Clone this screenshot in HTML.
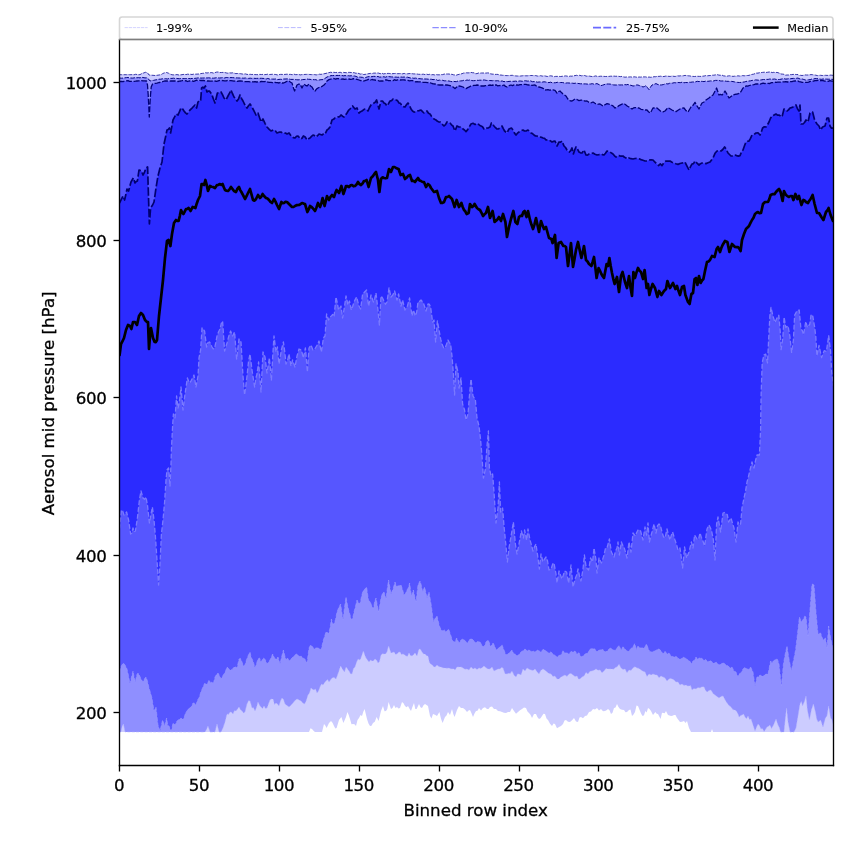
<!DOCTYPE html>
<html><head><meta charset="utf-8"><title>Aerosol mid pressure percentiles</title>
<style>html,body{margin:0;padding:0;background:#fff}svg{display:block}text{font-family:"DejaVu Sans","Liberation Sans",sans-serif;fill:#000}</style></head><body>
<svg width="850" height="850" viewBox="0 0 850 850">
<rect width="850" height="850" fill="#fff"/>
<defs><clipPath id="ax"><rect x="119.5" y="39.5" width="714.0" height="726.0"/></clipPath></defs>
<g clip-path="url(#ax)">
<polygon points="118.5,74.7 119.5,74.7 121.3,74.7 123.2,74.7 125.0,74.7 126.5,74.7 128.0,74.6 129.5,74.7 131.0,74.7 132.5,74.6 134.0,74.8 135.5,74.3 137.0,74.5 139.0,74.8 141.0,74.2 142.2,73.1 143.5,73.0 145.5,72.3 147.5,72.8 149.0,75.0 151.0,75.2 153.0,75.3 155.0,75.5 157.0,75.3 159.0,75.0 161.0,74.7 162.5,73.7 164.0,73.0 165.2,72.7 166.5,72.5 168.5,73.2 169.8,74.0 171.0,74.5 173.0,74.9 175.0,74.8 177.0,74.6 179.0,75.0 181.0,74.8 183.0,74.5 184.5,74.3 186.0,74.6 187.5,74.2 189.0,74.3 190.5,74.3 192.0,74.5 193.5,74.2 195.0,74.2 197.0,74.1 199.0,74.0 200.7,73.6 202.3,73.4 204.0,73.2 205.5,72.7 207.0,73.0 208.6,72.7 210.2,72.7 211.8,72.6 213.4,73.1 215.0,72.6 216.6,72.1 218.2,72.0 219.8,72.5 221.4,72.5 223.0,72.4 224.6,72.5 226.2,72.9 227.8,73.2 229.4,72.8 231.0,73.0 232.6,72.8 234.2,73.2 235.8,73.6 237.4,73.5 239.0,73.6 240.6,73.7 242.2,74.0 243.8,74.1 245.4,73.9 247.0,74.4 248.6,74.5 250.2,74.3 251.8,74.5 253.4,74.4 255.0,74.6 256.6,74.6 258.2,74.7 259.8,74.4 261.4,74.5 263.0,74.4 264.6,74.6 266.2,74.5 267.8,74.2 269.4,74.5 271.0,74.4 272.6,74.3 274.2,74.4 275.8,74.5 277.4,74.9 279.0,74.6 280.5,74.4 282.0,74.4 283.5,74.5 285.0,74.4 287.0,74.2 289.0,74.4 290.6,74.4 292.2,74.7 293.8,74.1 295.4,74.6 297.0,74.6 298.6,74.4 300.2,74.9 301.8,74.6 303.4,74.6 305.0,74.4 306.6,74.4 308.2,74.3 309.8,74.5 311.4,74.6 313.0,74.6 314.6,74.6 316.2,74.9 317.8,74.6 319.4,74.2 321.0,74.4 323.0,73.9 325.0,73.6 327.0,73.1 329.0,72.6 330.6,72.3 332.2,72.5 333.8,72.3 335.4,72.5 337.0,72.4 338.6,72.5 340.2,72.3 341.8,72.8 343.4,72.4 345.0,72.6 346.6,72.7 348.2,72.4 349.8,72.4 351.4,72.5 353.0,72.6 354.5,72.8 356.0,73.3 357.5,73.0 359.0,73.6 360.5,74.1 362.0,73.7 363.5,74.5 365.0,74.4 367.0,74.0 369.0,73.6 370.6,73.4 372.2,73.5 373.8,73.1 375.4,73.1 377.0,73.0 378.6,73.1 380.2,73.7 381.8,73.1 383.4,73.9 385.0,73.6 386.6,73.5 388.2,73.4 389.8,73.5 391.4,73.8 393.0,73.6 394.6,73.5 396.2,73.4 397.8,73.7 399.4,73.6 401.0,73.6 402.6,73.8 404.2,73.4 405.8,73.9 407.4,73.8 409.0,73.6 410.6,73.5 412.2,73.7 413.8,73.9 415.4,73.9 417.0,74.0 418.6,74.3 420.2,74.3 421.8,74.3 423.4,74.2 425.0,74.6 426.6,74.2 428.2,74.6 429.8,74.3 431.4,74.8 433.0,74.6 434.6,74.9 436.2,74.6 437.8,74.8 439.4,74.8 441.0,74.6 442.6,74.6 444.2,74.1 445.8,74.0 447.4,74.0 449.0,74.0 450.5,74.3 452.0,74.3 453.5,74.8 455.0,75.0 456.5,75.1 458.0,74.6 459.0,74.4 460.5,74.0 462.0,73.7 463.5,73.1 465.0,73.0 466.5,72.8 468.0,72.9 469.5,72.8 471.0,72.4 472.5,72.7 474.0,72.8 475.5,73.7 477.0,73.6 478.5,73.0 480.0,73.2 481.5,73.0 483.0,73.0 484.5,73.0 486.0,73.1 487.5,72.9 489.0,73.0 490.5,73.8 492.0,74.1 493.5,74.2 495.0,74.4 496.5,74.4 498.0,74.4 499.5,75.1 501.0,75.0 502.6,75.3 504.2,75.3 505.8,75.6 507.4,75.6 509.0,75.6 510.7,75.4 512.3,75.3 514.0,75.7 515.7,75.9 517.3,76.0 519.0,76.0 520.7,76.0 522.3,75.8 524.0,75.6 525.7,75.8 527.3,75.8 529.0,75.6 530.7,75.5 532.3,75.5 534.0,75.7 535.7,75.6 537.3,76.0 539.0,76.0 540.7,75.7 542.3,76.1 544.0,75.8 545.7,76.1 547.3,76.5 549.0,76.0 550.7,75.8 552.3,76.1 554.0,76.7 555.7,76.4 557.3,76.4 559.0,76.4 560.7,76.5 562.3,76.3 564.0,76.1 565.7,75.9 567.3,76.2 569.0,76.4 570.5,76.1 572.0,76.2 573.5,75.8 575.0,75.6 576.6,75.3 578.2,75.7 579.8,75.3 581.4,75.8 583.0,75.6 584.6,75.5 586.2,76.1 587.8,76.1 589.4,76.1 591.0,76.4 592.6,76.6 594.2,76.3 595.8,75.9 597.4,76.5 599.0,76.4 600.7,76.2 602.3,76.3 604.0,76.4 605.7,76.5 607.3,76.4 609.0,76.4 610.7,76.2 612.3,76.2 614.0,76.1 615.7,76.3 617.3,76.2 619.0,76.4 620.5,76.6 622.0,76.4 623.5,76.9 625.0,77.2 626.5,77.0 628.0,77.0 629.0,77.0 630.7,76.9 632.3,77.2 634.0,76.8 635.7,77.0 637.3,77.3 639.0,77.0 640.7,77.1 642.3,76.9 644.0,76.9 645.7,76.9 647.3,77.3 649.0,77.0 650.7,77.3 652.3,77.1 654.0,76.7 655.7,76.7 657.3,76.3 659.0,76.4 660.7,76.2 662.3,76.5 664.0,76.5 665.7,76.1 667.3,76.1 669.0,76.4 670.7,76.4 672.3,76.0 674.0,76.4 675.7,76.4 677.3,75.8 679.0,76.0 680.5,75.8 682.0,75.9 683.5,75.7 685.0,75.4 686.6,75.6 688.2,75.8 689.8,75.9 691.4,76.3 693.0,76.4 694.6,76.5 696.2,76.3 697.8,76.3 699.4,76.4 701.0,76.4 702.6,76.2 704.2,76.0 705.8,75.6 707.4,75.8 709.0,75.6 710.6,75.5 712.2,75.2 713.8,75.2 715.4,74.9 717.0,74.6 718.6,75.0 720.2,75.3 721.8,75.0 723.4,75.8 725.0,76.0 726.6,76.3 728.2,75.9 729.8,75.8 731.4,76.1 733.0,76.4 734.6,76.2 736.2,76.3 737.8,75.8 739.4,76.0 741.0,76.0 742.6,75.6 744.2,75.8 745.8,75.6 747.4,75.5 749.0,75.4 750.5,74.8 752.0,74.4 753.5,74.2 755.0,73.6 756.5,73.1 758.0,73.1 759.5,72.7 761.0,72.6 762.6,72.4 764.2,72.2 765.8,72.5 767.4,72.3 769.0,72.0 770.6,72.0 772.2,72.6 773.8,72.3 775.4,72.6 777.0,72.4 779.0,73.0 781.0,74.0 782.5,74.1 784.0,74.3 785.5,75.2 787.0,75.0 788.5,75.0 790.0,74.6 791.5,74.6 793.0,74.4 794.7,74.4 796.3,74.5 798.0,74.6 799.0,75.6 800.5,75.3 802.0,75.5 803.5,75.3 805.0,74.9 806.5,75.0 808.0,75.0 809.5,74.8 811.0,74.6 812.6,74.7 814.2,75.0 815.8,75.2 817.4,75.6 819.0,75.4 820.6,75.3 822.2,75.5 823.8,75.4 825.4,75.3 827.0,75.4 828.6,75.4 830.2,75.1 831.8,75.2 833.4,75.4 835.5,75.4 835.5,732.0 834.0,732.0 832.4,732.0 830.8,732.0 829.2,732.0 827.6,732.0 826.0,732.0 824.4,732.0 822.9,732.0 821.3,732.0 819.7,732.0 818.1,732.0 816.5,732.0 814.9,732.0 813.3,732.0 811.7,732.0 810.1,732.0 808.5,732.0 806.9,732.0 805.3,732.0 803.8,732.0 802.2,732.0 800.6,732.0 799.0,732.0 797.4,732.0 795.8,732.0 794.2,732.0 792.6,732.0 791.0,732.0 789.4,732.0 787.8,732.0 786.2,732.0 784.6,732.0 783.1,732.0 781.5,732.0 779.9,732.0 778.3,732.0 776.7,732.0 775.1,732.0 773.5,732.0 771.9,732.0 770.3,732.0 768.7,732.0 767.1,732.0 765.5,732.0 763.9,732.0 762.4,732.0 760.8,732.0 759.2,732.0 757.6,732.0 756.0,732.0 754.4,732.0 752.8,732.0 751.2,732.0 749.6,732.0 748.0,732.0 746.4,732.0 744.8,732.0 743.2,732.0 741.7,732.0 740.1,732.0 738.5,732.0 736.9,732.0 735.3,732.0 733.7,732.0 732.1,732.0 730.5,732.0 728.9,732.0 727.3,732.0 725.7,732.0 724.1,732.0 722.6,732.0 721.0,732.0 719.4,732.0 717.8,732.0 716.2,732.0 714.6,732.0 713.0,732.0 712.0,729.0 711.0,732.0 709.3,732.0 707.7,732.0 706.0,732.0 704.3,732.0 702.7,732.0 701.0,732.0 699.3,732.0 697.7,732.0 696.0,732.0 694.3,732.0 692.7,732.0 691.0,732.0 689.0,728.0 687.0,721.0 685.5,723.0 684.0,721.0 682.0,721.7 680.0,722.0 678.5,720.0 677.0,718.0 675.5,715.1 674.0,715.0 672.5,715.7 671.0,716.0 669.5,715.5 668.0,715.0 666.0,711.0 664.7,713.2 663.4,713.0 662.0,712.7 660.6,719.0 659.3,716.5 658.0,714.0 656.7,713.7 655.4,712.0 653.0,715.0 651.0,711.0 649.5,708.9 648.0,708.0 646.7,712.5 645.4,711.0 644.0,715.2 642.6,716.0 641.3,713.9 640.0,711.0 638.0,706.0 636.5,705.4 635.0,712.0 633.5,714.6 632.0,716.0 630.5,709.4 629.0,710.0 627.0,712.0 625.5,712.2 624.0,710.0 622.0,709.8 620.0,709.0 618.5,707.0 617.0,704.0 615.5,707.6 614.0,708.0 612.5,712.8 611.0,714.0 609.5,710.3 608.0,709.0 606.5,710.3 605.0,711.0 603.0,711.2 601.0,709.0 599.0,710.6 597.0,708.0 595.0,709.5 593.0,709.0 591.0,711.6 589.0,712.0 587.0,715.5 585.0,716.0 583.0,718.2 581.0,717.0 579.5,717.5 578.0,722.0 576.0,721.6 574.0,718.0 572.0,720.3 570.0,722.0 568.0,721.8 566.0,720.0 564.5,720.4 563.0,724.0 561.0,726.0 559.0,727.0 557.0,728.2 555.0,724.0 553.5,723.4 552.0,726.0 550.0,723.7 548.0,720.0 546.5,718.4 545.0,714.0 543.5,713.8 542.0,716.0 540.5,718.2 539.0,719.0 537.5,717.3 536.0,714.0 534.0,713.9 532.0,718.0 530.5,714.7 529.0,713.0 527.5,711.6 526.0,708.0 524.0,707.6 522.0,709.0 520.0,710.2 518.0,712.0 516.0,713.7 514.0,711.0 512.0,707.9 510.0,712.0 508.0,711.9 506.0,713.0 504.0,712.7 502.0,712.0 500.0,711.2 498.0,711.0 496.0,709.0 494.0,709.0 492.0,706.6 490.0,707.0 488.5,708.9 487.0,709.0 485.0,707.2 483.0,708.0 481.0,710.4 479.0,708.0 477.5,710.8 476.0,711.0 474.5,713.5 473.0,717.0 471.5,713.3 470.0,710.0 468.5,710.4 467.0,712.0 465.0,709.4 463.0,708.0 461.0,708.0 459.0,706.0 457.0,710.0 454.6,717.0 453.3,713.9 452.0,709.0 450.0,715.0 448.0,712.0 446.5,715.5 445.0,717.0 442.6,723.0 441.0,718.7 439.4,712.0 437.0,716.0 435.0,714.7 433.0,714.0 431.5,718.6 430.0,716.0 428.0,706.0 426.5,705.0 425.0,704.0 423.5,705.3 422.0,708.0 420.5,707.2 419.0,704.0 416.6,709.0 415.3,709.1 414.0,703.0 412.5,706.8 411.0,711.0 409.5,708.7 408.0,706.0 406.5,707.3 405.0,706.0 403.5,703.2 402.0,702.0 400.0,708.0 398.5,708.5 397.0,707.0 395.5,708.0 394.0,705.0 392.5,708.0 391.0,709.0 388.6,702.0 387.3,709.1 386.0,711.0 384.5,711.3 383.0,706.0 381.0,711.0 378.6,721.0 376.6,717.0 374.8,721.7 373.0,723.0 371.5,725.8 370.0,726.0 368.5,723.5 367.0,719.0 364.6,709.0 363.3,711.7 362.0,716.0 360.5,714.9 359.0,718.0 357.5,720.1 356.0,726.0 354.5,724.3 353.0,724.0 351.5,724.2 350.0,719.0 348.7,715.1 347.4,712.0 346.0,717.0 344.7,720.1 343.4,723.0 341.4,717.0 339.0,720.0 336.6,728.0 335.3,728.5 334.0,726.0 332.5,722.8 331.0,721.0 329.0,723.0 326.6,728.0 325.3,725.6 324.0,724.0 322.0,732.0 320.2,732.0 318.5,732.0 316.8,732.0 315.0,732.0 313.5,730.8 312.0,729.0 310.5,728.3 309.0,732.0 307.3,732.0 305.7,732.0 304.0,732.0 302.3,732.0 300.7,732.0 299.0,732.0 297.3,732.0 295.7,732.0 294.0,732.0 292.3,732.0 290.7,732.0 289.0,732.0 287.4,732.0 285.8,732.0 284.2,732.0 282.6,732.0 281.0,732.0 279.4,732.0 277.8,732.0 276.2,732.0 274.6,732.0 273.0,732.0 271.4,732.0 269.8,732.0 268.2,732.0 266.6,732.0 265.0,732.0 263.4,732.0 261.8,732.0 260.2,732.0 258.6,732.0 257.0,732.0 255.4,732.0 253.8,732.0 252.2,732.0 250.6,732.0 249.0,732.0 247.4,732.0 245.9,732.0 244.3,732.0 242.7,732.0 241.1,732.0 239.5,732.0 237.9,732.0 236.3,732.0 234.7,732.0 233.1,732.0 231.5,732.0 229.9,732.0 228.3,732.0 226.7,732.0 225.1,732.0 223.5,732.0 221.9,732.0 220.3,732.0 218.7,732.0 217.1,732.0 215.5,732.0 213.9,732.0 212.3,732.0 210.7,732.0 209.1,732.0 207.5,732.0 205.9,732.0 204.3,732.0 202.7,732.0 201.1,732.0 199.5,732.0 197.9,732.0 196.3,732.0 194.7,732.0 193.1,732.0 191.5,732.0 189.9,732.0 188.3,732.0 186.7,732.0 185.1,732.0 183.5,732.0 181.9,732.0 180.3,732.0 178.7,732.0 177.1,732.0 175.5,732.0 173.9,732.0 172.3,732.0 170.7,732.0 169.1,732.0 167.5,732.0 165.9,732.0 164.3,732.0 162.7,732.0 161.2,732.0 159.6,732.0 158.0,732.0 156.4,732.0 154.8,732.0 153.2,732.0 151.6,732.0 150.0,732.0 148.4,732.0 146.8,732.0 145.2,732.0 143.6,732.0 142.0,732.0 140.4,732.0 138.8,732.0 137.2,732.0 135.6,732.0 134.0,732.0 132.4,732.0 130.8,732.0 129.2,732.0 127.6,732.0 126.0,732.0 124.4,732.0 122.8,732.0 121.2,732.0 119.6,732.0 118.5,732.0" fill="#ccccff"/>
<polygon points="118.5,78.0 119.5,78.0 121.3,78.2 123.2,78.1 125.0,77.8 126.5,77.6 128.0,77.5 129.5,77.9 131.0,78.0 132.5,78.1 134.0,77.9 135.5,77.6 137.0,77.8 138.5,77.6 140.0,77.9 141.5,77.3 143.0,77.5 145.0,77.9 147.0,77.8 148.5,79.0 150.0,81.0 152.0,80.5 153.5,80.4 155.0,80.0 157.0,79.7 159.0,79.2 160.7,79.2 162.3,78.8 164.0,78.8 165.7,78.7 167.3,79.0 169.0,78.5 170.5,78.4 172.0,78.4 173.5,78.2 175.0,78.5 176.5,78.4 178.0,78.6 179.5,78.7 181.0,78.5 182.6,78.6 184.2,78.6 185.8,78.6 187.4,78.6 189.0,78.5 190.5,78.7 192.0,78.4 193.5,78.6 195.0,78.3 196.5,78.2 198.0,77.9 199.5,77.9 201.0,78.1 202.5,78.0 204.0,78.0 205.5,77.8 207.0,78.0 208.6,77.8 210.2,78.0 211.8,78.1 213.4,78.2 215.0,78.0 216.6,77.7 218.2,77.9 219.8,78.0 221.4,77.8 223.0,77.6 224.6,78.0 226.2,77.5 227.8,77.6 229.4,77.6 231.0,77.6 232.6,77.6 234.2,77.8 235.8,77.9 237.4,77.9 239.0,78.0 240.6,78.0 242.2,78.1 243.8,78.2 245.4,78.0 247.0,78.4 248.6,78.4 250.2,78.2 251.8,78.4 253.4,78.2 255.0,78.4 256.6,78.4 258.2,78.3 259.8,78.3 261.4,78.3 263.0,78.4 264.6,78.5 266.2,79.0 267.8,78.4 269.4,79.0 271.0,79.0 272.6,79.1 274.2,79.1 275.8,79.0 277.4,79.6 279.0,79.4 280.5,79.3 282.0,79.4 283.5,79.0 285.0,79.0 287.0,78.9 289.0,79.0 290.5,79.4 292.0,79.4 293.5,79.4 295.0,79.6 296.5,79.7 298.0,79.9 299.5,79.7 301.0,80.0 302.5,79.6 304.0,79.5 305.5,79.4 307.0,79.0 308.5,79.3 310.0,79.3 311.5,79.7 313.0,79.6 314.5,79.7 316.0,79.7 317.5,80.4 319.0,80.0 321.0,79.7 323.0,79.6 325.0,78.4 327.0,77.0 329.0,76.4 331.0,75.6 332.5,75.6 334.0,75.5 335.5,75.6 337.0,75.4 338.6,75.5 340.2,75.4 341.8,75.5 343.4,75.8 345.0,75.6 346.6,75.8 348.2,75.7 349.8,75.9 351.4,75.7 353.0,76.0 354.5,76.0 356.0,76.4 357.5,77.1 359.0,77.0 360.7,77.2 362.3,77.3 364.0,78.0 365.7,77.5 367.3,76.9 369.0,76.6 370.5,76.7 372.0,76.7 373.5,76.4 375.0,76.4 376.5,76.6 378.0,76.5 379.5,77.1 381.0,77.0 382.5,76.8 384.0,76.8 385.5,77.2 387.0,76.6 388.5,76.5 390.0,76.8 391.5,76.9 393.0,77.0 394.6,77.1 396.2,77.1 397.8,77.3 399.4,77.1 401.0,77.0 402.6,77.2 404.2,77.0 405.8,77.4 407.4,77.2 409.0,77.6 410.6,78.0 412.2,77.9 413.8,78.3 415.4,78.1 417.0,78.4 418.6,78.6 420.2,78.7 421.8,78.9 423.4,78.9 425.0,79.0 426.6,79.0 428.2,79.2 429.8,79.2 431.4,79.3 433.0,79.6 434.6,79.5 436.2,79.6 437.8,80.5 439.4,80.1 441.0,80.4 442.6,80.3 444.2,80.8 445.8,80.8 447.4,80.9 449.0,81.0 450.5,81.4 452.0,81.7 453.5,81.3 455.0,81.6 456.5,81.6 458.0,81.0 459.0,81.0 460.6,80.9 462.2,80.8 463.8,80.3 465.4,80.5 467.0,80.0 468.6,80.3 470.2,79.8 471.8,80.6 473.4,80.7 475.0,80.6 476.6,80.2 478.2,80.4 479.8,80.2 481.4,80.2 483.0,80.0 484.6,80.0 486.2,80.4 487.8,80.5 489.4,80.5 491.0,80.6 492.6,80.7 494.2,80.4 495.8,80.9 497.4,80.7 499.0,81.0 500.7,81.1 502.3,81.0 504.0,81.7 505.7,81.3 507.3,81.6 509.0,81.4 510.7,81.3 512.3,81.3 514.0,81.3 515.7,81.1 517.3,81.5 519.0,81.0 520.7,81.0 522.3,81.3 524.0,80.8 525.7,80.8 527.3,81.1 529.0,81.0 530.7,80.9 532.3,81.7 534.0,81.6 535.7,81.7 537.3,82.2 539.0,82.0 540.7,82.0 542.3,82.1 544.0,81.8 545.7,82.0 547.3,82.4 549.0,82.6 550.7,82.2 552.3,82.8 554.0,82.8 555.7,82.7 557.3,82.3 559.0,82.6 560.7,82.5 562.3,82.5 564.0,82.9 565.7,83.1 567.3,82.9 569.0,83.0 570.7,83.1 572.3,83.2 574.0,83.4 575.7,83.2 577.3,83.3 579.0,83.6 580.7,83.8 582.3,83.8 584.0,83.9 585.7,83.9 587.3,84.1 589.0,84.0 590.6,84.0 592.2,83.7 593.8,84.1 595.4,83.9 597.0,83.6 599.0,84.6 601.0,85.6 602.5,85.2 604.0,84.7 605.5,84.1 607.0,84.0 608.6,84.0 610.2,84.1 611.8,84.5 613.4,84.9 615.0,85.0 616.6,85.0 618.2,84.7 619.8,85.0 621.4,84.9 623.0,85.0 624.7,84.6 626.3,84.8 628.0,84.4 629.0,85.0 631.0,85.3 633.0,86.0 634.7,85.8 636.3,85.0 638.0,85.0 639.7,85.7 641.3,86.2 643.0,87.0 644.5,86.5 646.0,85.6 647.5,87.7 649.0,89.6 650.5,87.1 652.0,85.0 654.0,84.4 656.0,83.6 658.0,84.6 660.0,85.0 661.7,84.9 663.3,84.6 665.0,84.0 666.5,83.7 668.0,84.0 669.5,83.3 671.0,83.2 672.6,83.1 674.2,82.7 675.8,82.8 677.4,82.4 679.0,82.6 680.7,82.6 682.3,82.1 684.0,82.8 685.7,82.5 687.3,82.6 689.0,82.2 690.7,82.3 692.3,82.0 694.0,82.0 695.7,81.8 697.3,81.3 699.0,81.6 700.7,81.3 702.3,81.4 704.0,81.6 705.7,81.1 707.3,81.3 709.0,81.2 710.6,80.9 712.2,81.0 713.8,80.9 715.4,80.4 717.0,80.4 718.6,80.3 720.2,80.9 721.8,81.0 723.4,80.9 725.0,81.0 726.6,81.3 728.2,81.3 729.8,81.5 731.4,81.4 733.0,81.6 734.6,81.9 736.2,82.3 737.8,82.4 739.4,82.5 741.0,82.4 742.6,82.1 744.2,82.0 745.8,81.5 747.4,81.2 749.0,81.0 750.6,80.8 752.2,80.4 753.8,80.4 755.4,79.9 757.0,80.0 758.6,80.2 760.2,80.0 761.8,79.8 763.4,79.5 765.0,79.6 766.6,79.4 768.2,79.4 769.8,79.0 771.4,79.2 773.0,79.2 774.6,79.0 776.2,79.4 777.8,79.5 779.4,79.5 781.0,79.2 782.6,78.8 784.2,78.7 785.8,79.1 787.4,78.9 789.0,78.6 790.5,78.7 792.0,78.5 793.5,78.4 795.0,78.6 796.5,78.3 798.0,78.0 799.0,78.6 800.6,79.0 802.2,79.0 803.8,79.5 805.4,80.0 807.0,80.0 808.6,79.8 810.2,79.6 811.8,79.1 813.4,79.0 815.0,78.6 816.6,78.6 818.2,78.7 819.8,79.1 821.4,79.3 823.0,79.0 824.7,79.0 826.5,79.1 828.2,79.2 829.9,79.2 831.7,79.3 833.4,79.4 835.5,79.4 835.5,726.0 833.4,726.0 832.0,719.7 830.6,718.0 828.6,706.0 827.0,716.0 825.4,718.0 823.0,727.0 820.6,720.0 819.3,721.3 818.0,722.0 816.7,719.0 815.4,712.0 813.4,704.0 811.4,710.0 809.4,720.0 807.4,710.0 806.0,696.0 804.6,701.0 802.6,706.0 801.3,701.6 800.0,704.0 798.0,716.0 796.0,728.0 794.0,732.0 792.0,732.0 790.0,732.0 788.0,722.0 786.6,708.0 785.4,718.0 784.0,732.0 782.3,732.0 780.6,732.0 779.3,727.4 778.0,725.0 776.0,719.0 774.5,722.8 773.0,726.0 771.5,728.6 770.0,725.0 768.5,726.3 767.0,727.0 765.5,729.5 764.0,731.6 762.5,728.6 761.0,729.0 759.5,725.8 758.0,724.0 756.5,727.2 755.0,731.0 753.0,725.0 751.0,719.0 749.5,719.5 748.0,716.0 746.5,718.7 745.0,717.0 743.5,714.1 742.0,715.0 740.5,715.7 739.0,717.0 738.0,714.0 736.5,711.3 735.0,710.0 733.0,709.7 731.0,707.0 729.0,705.6 727.0,703.0 725.0,699.7 723.0,696.0 721.0,696.5 719.0,698.0 717.0,696.6 715.0,695.0 713.0,693.6 711.0,690.0 709.0,690.5 707.0,692.0 705.5,690.3 704.0,687.0 702.0,686.8 700.0,688.0 698.0,687.6 696.0,689.0 694.0,688.5 692.0,690.0 690.5,685.4 689.0,686.0 687.5,685.9 686.0,685.0 684.0,685.4 682.0,684.0 680.0,685.0 678.0,682.0 676.0,682.0 674.0,680.0 672.3,679.0 670.7,678.4 669.0,679.0 667.0,681.1 665.0,678.0 663.0,676.9 661.0,676.0 659.0,677.7 657.0,675.0 655.0,674.7 653.0,674.0 651.0,674.9 649.0,674.0 647.0,676.4 645.0,672.0 643.0,671.3 641.0,670.0 639.0,668.4 637.0,668.0 635.0,666.7 633.0,668.0 631.0,670.4 629.0,670.0 627.0,672.7 625.0,669.0 623.0,669.6 621.0,668.0 619.0,664.2 617.0,667.0 615.3,667.4 613.7,669.2 612.0,669.0 610.0,669.0 608.0,669.0 606.0,668.6 604.0,671.0 602.0,672.7 600.0,670.0 598.0,670.2 596.0,669.0 594.0,670.3 592.0,671.0 590.0,671.2 588.0,674.0 586.0,672.5 584.0,676.0 582.0,677.1 580.0,679.0 578.5,679.1 577.0,676.0 575.0,676.6 573.0,675.0 571.0,673.4 569.0,674.0 567.0,676.4 565.0,675.0 563.0,676.1 561.0,677.0 559.0,679.0 557.0,679.0 555.0,676.0 553.0,676.6 551.0,674.0 549.0,673.5 547.0,672.0 545.0,670.3 543.0,669.0 541.0,670.3 539.0,674.0 537.0,671.7 535.0,669.0 533.0,670.6 531.0,670.0 529.0,669.2 527.0,668.0 525.0,671.0 523.0,669.0 521.0,674.9 519.0,674.0 517.5,673.9 516.0,677.0 514.0,675.2 512.0,671.0 510.3,673.4 508.7,673.3 507.0,674.0 505.0,673.7 503.0,668.0 501.5,667.5 500.0,669.0 498.0,669.0 496.0,670.0 494.0,671.0 492.0,667.0 490.0,669.1 488.0,669.0 486.0,667.8 484.0,666.0 482.3,667.6 480.7,668.4 479.0,668.0 477.0,669.5 475.0,668.0 473.0,668.9 471.0,667.0 469.0,670.1 467.0,669.0 465.0,669.3 463.0,668.0 461.0,666.9 459.0,667.0 457.0,667.1 455.0,670.0 453.5,668.7 452.0,669.0 450.5,668.8 449.0,668.0 447.0,668.3 445.0,668.0 443.0,667.9 441.0,667.0 439.0,666.7 437.0,665.0 435.5,666.8 434.0,667.0 432.3,665.0 430.6,664.0 429.3,662.3 428.0,656.0 426.5,655.7 425.0,654.0 423.5,654.1 422.0,652.0 420.5,649.4 419.0,649.0 417.0,656.0 415.0,653.0 413.5,654.7 412.0,656.0 410.5,655.4 409.0,653.0 407.5,656.3 406.0,656.0 404.5,654.8 403.0,654.0 401.5,654.4 400.0,652.0 398.5,652.2 397.0,654.0 395.5,654.3 394.0,652.0 392.5,652.5 391.0,653.0 388.6,646.0 387.0,652.0 385.5,654.0 384.0,654.0 382.5,653.8 381.0,655.0 379.5,661.6 378.0,663.0 376.5,659.9 375.0,659.0 373.5,660.8 372.0,661.0 370.5,660.1 369.0,662.0 367.5,660.1 366.0,658.0 364.7,655.0 363.4,651.0 362.0,654.9 360.6,659.0 359.3,659.9 358.0,659.0 356.5,662.6 355.0,667.0 353.5,668.6 352.0,674.0 350.5,673.7 349.0,671.0 347.5,668.9 346.0,667.0 344.5,671.9 343.0,670.0 340.6,666.0 338.6,672.0 337.3,675.8 336.0,679.0 334.0,677.4 332.0,678.0 330.5,680.0 329.0,682.0 327.5,679.4 326.0,681.0 324.5,682.8 323.0,685.0 321.5,684.0 320.0,687.0 318.5,691.0 317.0,693.0 315.5,689.0 314.0,690.0 312.5,689.3 311.0,688.0 309.5,693.0 308.0,695.0 306.3,700.5 304.6,704.0 302.8,702.9 301.0,701.0 299.0,699.9 297.0,699.0 295.0,700.5 293.0,703.0 291.0,705.2 289.0,707.0 287.0,705.6 285.0,704.0 283.5,699.4 282.0,698.0 280.5,700.9 279.0,706.0 277.5,704.1 276.0,703.0 274.5,704.4 273.0,699.0 271.5,699.1 270.0,700.0 268.5,703.9 267.0,708.0 265.5,708.4 264.0,706.0 262.5,708.6 261.0,707.0 259.5,705.2 258.0,702.0 256.5,707.5 255.0,711.0 253.5,707.7 252.0,708.0 250.0,701.0 248.5,700.8 247.0,704.0 245.0,712.0 243.5,713.0 242.0,711.0 240.5,709.7 239.0,707.0 237.5,708.9 236.0,711.0 234.5,710.6 233.0,714.0 231.5,712.3 230.0,712.0 228.5,714.4 227.0,714.0 225.0,722.0 223.0,728.0 221.0,732.0 219.0,732.0 217.0,724.0 215.0,732.0 213.3,732.0 211.7,732.0 210.0,732.0 208.0,726.0 206.5,729.5 205.0,732.0 203.4,732.0 201.8,732.0 200.2,732.0 198.6,732.0 197.0,732.0 195.4,732.0 193.8,732.0 192.2,732.0 190.6,732.0 189.0,732.0 187.4,732.0 185.8,732.0 184.2,732.0 182.6,732.0 181.0,732.0 179.4,732.0 177.8,732.0 176.2,732.0 174.6,732.0 173.0,732.0 171.4,732.0 169.8,732.0 168.2,732.0 166.6,732.0 165.0,732.0 163.4,732.0 161.8,732.0 160.2,732.0 158.6,732.0 157.0,732.0 155.4,732.0 153.8,732.0 152.2,732.0 150.6,732.0 149.0,732.0 147.4,732.0 145.8,732.0 144.2,732.0 142.6,732.0 141.0,732.0 139.4,732.0 137.8,732.0 136.2,732.0 134.6,732.0 133.0,732.0 131.4,732.0 129.8,732.0 128.2,732.0 126.6,732.0 125.0,732.0 123.4,724.0 122.2,726.3 121.0,732.0 119.6,732.0 118.5,732.0" fill="#8f8fff"/>
<polygon points="118.5,81.5 119.5,81.5 121.3,81.3 123.2,81.6 125.0,81.0 126.5,80.8 128.0,80.6 129.5,81.3 131.0,81.3 132.5,81.4 134.0,81.3 135.5,81.2 137.0,81.0 138.5,80.9 140.0,80.7 141.5,80.6 143.0,80.8 144.8,80.9 146.5,81.0 147.5,85.0 148.2,95.0 148.8,107.0 149.3,117.0 149.8,107.0 150.5,95.0 151.2,87.0 152.5,84.0 153.8,83.6 155.0,83.3 157.0,83.2 159.0,82.5 161.0,82.2 163.0,81.5 165.0,80.9 167.0,81.0 169.0,81.2 171.0,81.0 173.0,81.0 175.0,81.0 176.5,81.4 178.0,81.5 179.5,81.2 181.0,81.0 182.6,80.5 184.2,81.2 185.8,80.6 187.4,81.5 189.0,81.0 190.5,80.8 192.0,80.9 193.5,81.4 195.0,80.8 196.5,80.2 198.0,80.7 199.5,80.4 201.0,80.5 202.5,80.3 204.0,80.5 205.5,81.0 207.0,81.0 208.6,80.9 210.2,81.1 211.8,81.2 213.4,80.5 215.0,81.0 216.6,81.4 218.2,80.8 219.8,80.3 221.4,80.5 223.0,80.6 224.6,80.9 226.2,80.9 227.8,80.4 229.4,80.7 231.0,80.6 232.6,80.8 234.2,81.1 235.8,80.8 237.4,81.3 239.0,81.0 240.6,80.9 242.2,81.1 243.8,81.6 245.4,81.7 247.0,81.6 248.6,81.6 250.2,81.8 251.8,81.7 253.4,81.9 255.0,81.6 256.6,82.0 258.2,81.8 259.8,81.9 261.4,81.5 263.0,81.6 264.6,81.6 266.2,81.2 267.8,82.2 269.4,82.3 271.0,82.4 272.6,82.7 274.2,82.1 275.8,82.6 277.4,82.7 279.0,83.0 280.5,82.3 282.0,83.0 283.5,83.0 285.0,82.4 287.0,81.3 289.0,81.0 290.5,82.2 292.0,83.0 293.3,87.6 294.6,91.0 297.0,85.0 298.5,84.2 300.0,84.0 302.0,88.0 304.0,84.0 305.5,85.3 307.0,86.0 309.0,84.0 310.5,86.0 312.0,87.0 313.5,89.6 315.0,91.0 316.5,89.1 318.0,88.0 319.5,87.2 321.0,87.0 322.5,86.1 324.0,85.0 325.5,83.4 327.0,81.0 329.0,79.6 331.0,79.0 332.5,78.7 334.0,78.5 335.5,79.1 337.0,78.6 338.5,78.6 340.0,79.0 341.5,79.1 343.0,79.0 344.5,79.4 346.0,79.2 347.5,79.1 349.0,79.0 350.5,79.4 352.0,79.2 353.5,78.6 355.0,79.0 357.0,79.4 359.0,80.0 360.7,80.6 362.3,80.7 364.0,81.0 365.7,80.3 367.3,79.8 369.0,79.0 370.5,80.0 372.0,79.5 373.5,79.9 375.0,80.0 376.5,80.4 378.0,80.5 379.5,81.2 381.0,81.0 382.5,81.0 384.0,80.7 385.5,79.9 387.0,80.0 388.5,80.6 390.0,80.6 391.5,80.5 393.0,80.6 394.5,79.7 396.0,80.3 397.5,79.8 399.0,80.0 400.5,80.0 402.0,79.9 403.5,79.8 405.0,80.0 406.5,80.5 408.0,80.4 409.5,80.9 411.0,80.6 412.5,80.6 414.0,81.1 415.5,81.8 417.0,81.6 418.5,81.9 420.0,81.8 421.5,82.0 423.0,82.4 424.5,82.3 426.0,82.4 427.5,82.6 429.0,82.4 430.5,82.9 432.0,83.5 433.5,83.9 435.0,84.0 436.5,84.3 438.0,84.9 439.5,85.0 441.0,85.0 442.5,85.0 444.0,85.0 445.5,85.0 447.0,85.0 449.0,85.3 451.0,86.0 453.0,86.9 455.0,88.6 456.5,87.3 458.0,86.0 459.0,86.0 461.0,86.4 463.0,87.0 464.5,88.0 466.0,88.6 467.7,87.6 469.3,86.9 471.0,86.0 472.5,85.8 474.0,85.4 475.5,85.3 477.0,85.0 479.0,85.3 481.0,86.0 482.5,85.8 484.0,86.0 485.5,85.7 487.0,85.4 488.5,85.3 490.0,85.0 491.5,85.3 493.0,85.0 494.5,85.8 496.0,84.7 497.5,85.8 499.0,85.6 500.7,85.5 502.3,85.6 504.0,85.0 505.5,86.4 507.0,87.0 509.0,85.7 511.0,85.0 512.5,85.6 514.0,84.9 515.5,85.0 517.0,85.0 518.5,85.1 520.0,84.7 521.5,84.7 523.0,84.4 524.5,84.4 526.0,84.4 527.5,84.9 529.0,85.0 530.5,84.7 532.0,85.4 533.5,85.1 535.0,85.0 537.0,86.5 539.0,87.0 540.5,87.4 542.0,87.9 543.5,88.6 545.0,90.0 546.5,89.9 548.0,89.6 549.5,90.1 551.0,90.0 553.0,89.8 555.0,90.4 557.0,93.0 558.5,91.6 560.0,91.0 561.5,92.6 563.0,94.0 564.5,94.9 566.0,96.0 567.3,98.2 568.6,100.0 570.3,100.8 572.0,101.0 573.5,100.1 575.0,99.0 577.0,99.5 579.0,100.6 581.0,100.1 583.0,100.0 585.0,101.2 587.0,101.0 588.5,102.0 590.0,103.0 591.5,102.6 593.0,102.0 595.0,103.3 597.0,104.4 598.5,104.2 600.0,104.0 601.5,105.0 603.0,106.0 605.0,104.7 607.0,103.6 609.0,104.2 611.0,105.0 613.0,105.9 615.0,108.0 617.0,107.3 619.0,105.6 621.0,104.6 623.0,103.6 624.5,103.9 626.0,105.0 627.5,106.2 629.0,107.0 630.5,108.2 632.0,109.0 633.5,107.9 635.0,107.6 637.0,107.7 639.0,108.0 641.0,109.3 643.0,109.6 645.0,110.0 647.0,110.0 648.5,111.7 650.0,113.0 651.5,110.8 653.0,108.0 655.0,108.0 657.0,108.0 659.0,109.7 661.0,111.6 663.0,111.8 665.0,111.0 666.5,109.3 668.0,107.6 670.0,108.8 672.0,110.0 674.0,111.0 676.0,111.6 678.0,110.3 680.0,109.0 682.0,108.2 684.0,108.0 686.0,110.6 688.0,112.0 689.5,109.5 691.0,107.0 693.0,105.3 695.0,102.4 697.0,105.9 699.0,109.0 700.5,105.8 702.0,103.0 704.0,102.0 706.0,100.0 707.5,99.0 709.0,98.0 711.0,96.3 713.0,95.0 714.8,91.5 716.6,88.0 719.0,95.0 720.5,94.4 722.0,95.0 723.5,93.2 725.0,91.0 727.0,94.3 729.0,98.0 731.0,96.5 733.0,95.0 735.0,94.3 737.0,94.0 738.5,93.7 740.0,93.0 741.5,90.6 743.0,88.0 744.5,87.4 746.0,86.0 747.7,86.2 749.3,85.5 751.0,85.0 752.5,84.8 754.0,84.6 755.5,84.0 757.0,84.0 758.6,83.8 760.2,84.1 761.8,83.5 763.4,83.1 765.0,83.6 766.6,83.3 768.2,83.3 769.8,83.5 771.4,82.6 773.0,82.6 774.6,82.2 776.2,82.4 777.8,82.2 779.4,82.2 781.0,82.0 782.6,81.8 784.2,81.9 785.8,81.6 787.4,82.0 789.0,81.6 790.5,81.6 792.0,81.6 793.5,81.2 795.0,80.8 796.5,81.1 798.0,81.0 799.0,81.6 800.6,81.8 802.2,82.3 803.8,82.4 805.4,82.3 807.0,82.4 808.6,82.1 810.2,81.4 811.8,81.3 813.4,81.1 815.0,80.6 816.6,80.5 818.2,80.3 819.8,81.0 821.4,80.3 823.0,80.6 824.7,81.2 826.5,81.1 828.2,81.3 829.9,80.6 831.7,81.2 833.4,81.0 835.5,81.0 835.5,650.0 833.4,650.0 832.0,643.9 830.6,638.0 828.6,626.0 827.0,648.0 825.4,638.0 823.0,640.0 820.6,633.0 819.3,633.4 818.0,634.0 816.0,612.0 814.0,585.0 812.0,584.0 810.0,609.0 808.0,636.0 806.0,617.0 804.7,616.2 803.4,619.0 801.4,622.0 799.4,617.0 797.0,638.0 795.5,650.3 794.0,658.0 792.7,664.0 791.4,671.0 789.0,659.0 787.0,646.0 785.4,653.0 783.4,664.0 781.4,686.0 779.0,664.0 777.5,659.4 776.0,659.0 774.7,660.1 773.4,661.0 772.0,662.7 770.6,661.0 769.3,667.5 768.0,674.0 766.0,674.0 764.5,675.3 763.0,676.0 761.5,675.9 760.0,675.0 758.5,676.7 757.0,677.0 755.0,686.0 753.0,672.0 750.6,667.0 748.8,669.4 747.0,669.0 745.0,667.4 743.0,669.0 741.0,673.0 739.0,674.0 738.0,677.0 736.0,672.1 734.0,671.0 732.0,667.1 730.0,668.0 728.0,665.8 726.0,665.0 724.0,663.3 722.0,663.0 720.0,665.1 718.0,664.0 716.3,662.3 714.7,662.9 713.0,663.0 711.0,660.9 709.0,661.0 707.3,662.0 705.7,659.0 704.0,661.0 702.3,658.3 700.7,658.4 699.0,658.0 697.5,659.3 696.0,657.1 694.5,660.2 693.0,661.0 691.3,663.8 689.7,661.0 688.0,660.0 686.0,658.7 684.0,657.0 682.0,658.5 680.0,659.0 678.0,658.4 676.0,656.0 674.3,657.3 672.7,656.5 671.0,656.0 669.0,653.1 667.0,654.0 665.0,651.2 663.0,654.0 661.0,650.8 659.0,649.0 657.0,649.6 655.0,651.0 653.0,651.4 651.0,652.0 649.5,651.2 648.0,648.0 646.5,643.9 645.0,647.0 643.5,647.9 642.0,648.0 640.0,647.9 638.0,646.0 636.3,649.5 634.7,643.6 633.0,647.0 631.0,648.4 629.0,651.0 627.0,651.2 625.0,649.0 623.0,646.8 621.0,650.0 619.0,645.4 617.0,648.0 615.0,650.4 613.0,650.0 611.0,648.0 609.0,649.0 607.0,651.3 605.0,652.0 603.0,649.4 601.0,650.0 599.0,649.8 597.0,652.0 595.0,648.9 593.0,649.0 591.0,648.3 589.0,651.0 587.0,653.4 585.0,654.0 583.0,656.1 581.0,657.0 579.0,652.8 577.0,654.0 575.0,651.1 573.0,652.0 571.0,651.5 569.0,654.0 567.0,653.0 565.0,653.0 563.0,650.8 561.0,655.0 559.0,655.5 557.0,657.0 555.0,655.5 553.0,654.0 551.0,651.9 549.0,653.0 547.0,651.9 545.0,650.0 543.0,649.4 541.0,652.0 539.0,650.9 537.0,650.0 535.0,652.2 533.0,651.0 531.0,651.5 529.0,650.0 527.0,650.8 525.0,649.0 523.0,650.7 521.0,652.0 519.0,654.6 517.0,656.0 515.3,654.0 513.7,653.9 512.0,650.0 510.3,651.9 508.7,653.0 507.0,655.0 505.5,653.9 504.0,650.0 502.0,644.9 500.0,647.0 498.0,648.6 496.0,650.0 494.5,645.6 493.0,643.0 490.6,647.0 489.3,642.6 488.0,640.0 486.0,641.9 484.0,647.0 482.0,645.4 480.0,642.0 478.0,641.2 476.0,643.0 474.0,641.1 472.0,639.0 470.3,638.7 468.7,641.3 467.0,643.0 465.0,640.6 463.0,639.0 461.0,640.0 459.0,643.0 456.6,638.0 455.3,641.5 454.0,642.0 452.5,640.8 451.0,636.0 448.6,629.0 447.3,630.6 446.0,632.0 444.5,629.9 443.0,631.0 441.2,630.0 439.4,626.0 437.0,616.0 435.2,618.3 433.4,622.0 431.4,606.0 429.0,592.0 427.0,598.0 424.6,587.0 422.6,592.0 421.3,585.2 420.0,581.0 418.0,585.0 416.0,602.0 414.7,596.8 413.4,590.0 411.4,596.0 409.6,583.0 408.3,587.9 407.0,590.0 405.5,593.6 404.0,595.0 402.5,589.4 401.0,585.0 399.5,585.6 398.0,586.0 396.5,586.4 395.0,582.0 393.0,589.3 391.0,594.0 388.6,580.0 387.3,588.6 386.0,599.0 384.0,592.0 382.5,593.3 381.0,598.0 378.6,612.0 377.3,605.3 376.0,598.0 374.7,601.3 373.4,609.0 371.4,605.0 370.0,601.3 368.6,601.0 366.6,587.0 364.8,589.2 363.0,591.0 361.5,596.6 360.0,604.0 358.5,602.7 357.0,600.0 355.5,606.3 354.0,612.0 352.7,618.1 351.4,620.0 350.0,614.7 348.6,610.0 347.3,604.1 346.0,597.0 344.5,607.5 343.0,620.0 340.6,604.0 338.8,607.5 337.0,612.0 335.5,619.5 334.0,624.0 332.7,623.9 331.4,619.0 330.0,627.9 328.6,634.0 327.3,632.3 326.0,632.0 324.7,636.1 323.4,640.0 321.0,650.0 319.5,648.6 318.0,648.0 316.0,647.9 314.0,649.0 312.3,646.4 310.6,645.0 309.0,648.0 307.0,663.0 305.0,659.2 303.0,658.0 301.3,656.3 299.7,656.5 298.0,655.0 296.3,654.1 294.7,655.3 293.0,657.0 291.0,659.1 289.0,661.0 287.5,657.7 286.0,660.0 284.7,655.2 283.4,650.0 281.7,656.6 280.0,664.0 278.0,657.0 276.5,658.9 275.0,659.0 272.6,654.0 271.0,658.1 269.4,661.0 267.0,664.0 265.2,659.5 263.4,658.0 261.0,662.0 259.5,658.0 258.0,659.0 256.5,663.7 255.0,668.0 253.8,663.5 252.6,660.0 251.3,657.7 250.0,652.0 248.0,656.0 246.5,659.8 245.0,665.0 243.5,665.9 242.0,662.0 240.5,658.4 239.0,659.0 237.0,668.0 235.5,667.0 234.0,667.0 232.0,669.7 230.0,670.0 228.5,668.5 227.0,667.0 225.5,671.3 224.0,674.0 222.5,676.2 221.0,679.0 219.5,675.7 218.0,673.0 216.5,674.6 215.0,677.0 213.5,683.1 212.0,682.0 210.5,682.9 209.0,680.0 207.5,683.7 206.0,684.0 204.5,683.5 203.0,687.0 201.0,691.6 199.0,698.0 197.5,700.0 196.0,705.0 194.5,703.2 193.0,703.0 191.5,706.3 190.0,708.0 188.5,708.6 187.0,711.0 185.5,712.9 184.0,718.0 182.5,719.3 181.0,718.0 179.0,719.5 177.0,721.0 175.0,725.0 173.0,723.0 171.4,731.0 170.2,729.0 169.0,726.0 167.8,725.6 166.6,718.0 164.6,726.0 162.6,720.0 161.3,725.5 160.0,731.0 158.0,725.0 156.0,707.0 154.0,711.0 152.0,698.0 150.5,692.8 149.0,688.0 147.5,681.2 146.0,677.0 144.5,678.8 143.0,682.0 141.0,679.0 139.5,675.5 138.0,673.0 136.7,674.9 135.4,682.0 134.2,677.6 133.0,671.0 131.5,677.0 130.0,684.0 128.5,675.6 127.0,669.0 125.2,665.3 123.4,663.0 121.5,665.6 119.6,671.0 118.5,671.0" fill="#5656ff"/>
<polygon points="118.5,203.0 119.6,203.0 121.3,199.4 123.0,196.0 124.6,200.0 125.8,194.8 127.0,189.0 128.6,191.0 129.8,186.4 131.0,182.0 132.2,179.8 133.4,178.0 135.0,183.0 136.2,181.5 137.4,181.0 139.0,170.0 140.2,170.4 141.4,171.0 143.0,175.0 144.5,172.1 146.0,168.0 147.6,167.0 148.6,200.0 149.4,224.0 150.6,208.0 152.6,205.0 154.0,202.0 156.0,188.0 158.0,176.0 160.0,168.0 162.0,162.0 164.0,144.0 165.5,137.2 167.0,130.0 168.2,129.5 169.4,128.0 170.6,133.0 171.8,126.6 173.0,120.0 174.5,117.2 176.0,114.0 178.0,115.0 179.5,111.6 181.0,108.0 182.5,108.7 184.0,111.0 185.5,112.9 187.0,114.0 188.5,112.3 190.0,110.0 191.5,108.7 193.0,107.0 195.0,105.0 196.6,108.0 198.0,102.0 199.3,100.7 200.6,101.0 201.6,88.0 202.8,87.1 204.0,88.0 205.4,86.0 207.0,92.0 208.2,91.1 209.4,91.0 210.7,92.8 212.0,95.0 213.5,99.2 215.0,103.0 216.2,98.0 217.4,93.0 219.2,92.8 221.0,92.0 222.5,94.7 224.0,98.0 226.0,100.0 228.0,96.0 229.5,93.2 231.0,90.0 232.5,93.7 234.0,97.0 235.5,98.7 237.0,101.0 238.5,98.9 240.0,95.0 241.5,98.3 243.0,101.0 245.0,105.1 247.0,108.0 248.5,105.7 250.0,104.0 251.5,106.1 253.0,109.0 254.5,111.8 256.0,115.0 258.0,113.0 259.5,117.4 261.0,122.0 263.0,119.0 265.0,123.3 267.0,127.0 269.0,129.1 271.0,131.0 272.5,130.3 274.0,130.0 275.5,131.0 277.0,133.0 279.0,132.2 281.0,132.0 282.5,133.1 284.0,133.0 285.5,133.1 287.0,134.0 289.0,133.0 290.5,135.1 292.0,137.0 293.5,137.7 295.0,138.0 296.5,136.3 298.0,136.0 299.3,137.5 300.6,139.0 302.0,138.2 303.4,136.0 305.2,137.0 307.0,140.0 308.5,138.8 310.0,138.0 311.5,136.4 313.0,135.0 314.5,135.6 316.0,137.0 317.5,135.7 319.0,134.0 320.5,134.5 322.0,135.0 323.5,133.8 325.0,134.0 327.0,130.0 328.5,128.9 330.0,127.0 332.0,120.0 333.5,119.3 335.0,118.0 336.5,118.0 338.0,117.0 339.5,116.7 341.0,115.0 342.5,116.2 344.0,117.0 345.5,115.1 347.0,113.0 348.5,110.4 350.0,109.0 351.3,107.8 352.6,106.0 355.0,109.0 357.0,108.0 359.0,113.0 360.5,111.7 362.0,111.0 363.5,109.8 365.0,109.0 366.5,109.4 368.0,111.0 369.5,107.5 371.0,105.0 372.5,103.7 374.0,103.0 375.3,102.1 376.6,100.0 379.0,109.0 381.0,101.0 382.5,101.0 384.0,103.0 385.5,103.8 387.0,106.0 388.5,103.6 390.0,101.0 391.5,100.7 393.0,99.0 394.5,99.8 396.0,100.0 397.5,100.6 399.0,103.0 400.5,103.3 402.0,106.0 403.5,106.7 405.0,107.0 406.5,104.6 408.0,103.0 409.5,105.4 411.0,109.0 412.5,111.0 414.0,112.0 415.5,112.1 417.0,111.0 419.0,110.6 421.0,110.0 422.5,111.6 424.0,113.0 425.5,112.2 427.0,111.0 428.5,113.3 430.0,114.0 431.5,116.3 433.0,118.0 434.5,119.3 436.0,120.0 437.5,121.3 439.0,122.0 440.5,122.2 442.0,124.0 444.0,126.0 445.5,124.6 447.0,122.0 448.5,123.0 450.0,123.0 451.5,124.8 453.0,126.0 455.0,131.0 457.0,126.0 459.0,127.0 461.0,127.0 463.0,129.0 464.5,130.0 466.0,131.6 467.3,130.2 468.6,128.0 471.0,124.0 473.0,123.3 475.0,124.4 476.5,123.9 478.0,123.6 479.5,125.3 481.0,126.0 482.5,126.8 484.0,129.0 485.5,129.3 487.0,128.0 488.5,127.8 490.0,127.0 491.4,123.0 492.7,124.4 494.0,126.0 495.5,127.7 497.0,129.0 498.5,128.8 500.0,128.0 502.0,126.0 503.3,128.6 504.6,131.0 507.0,133.0 509.0,129.0 511.4,128.0 513.0,130.0 514.5,133.1 516.0,135.0 517.5,133.2 519.0,132.0 521.0,130.8 523.0,130.0 524.5,131.0 526.0,131.0 528.0,130.0 529.5,131.5 531.0,133.0 532.5,133.6 534.0,135.0 535.5,136.0 537.0,136.0 538.5,137.2 540.0,137.0 541.5,137.3 543.0,138.0 544.5,138.3 546.0,140.0 547.5,139.9 549.0,140.0 550.5,140.9 552.0,142.0 553.5,141.4 555.0,141.0 557.0,146.0 559.0,142.0 560.5,142.2 562.0,141.0 564.0,146.0 565.5,147.5 567.0,150.0 569.4,152.0 570.7,150.6 572.0,148.0 573.4,154.0 574.7,149.9 576.0,147.0 577.5,149.1 579.0,152.0 580.5,152.8 582.0,153.0 584.0,150.0 586.0,155.0 587.5,155.1 589.0,154.0 591.0,153.9 593.0,153.0 595.0,154.2 597.0,155.0 599.0,154.6 601.0,154.0 602.5,154.6 604.0,155.0 605.5,153.3 607.0,151.0 608.5,151.4 610.0,152.0 611.5,153.1 613.0,154.0 614.5,155.8 616.0,157.0 617.5,156.3 619.0,155.6 621.0,156.2 623.0,156.0 624.5,157.3 626.0,158.0 627.5,159.0 629.0,158.0 631.0,158.7 633.0,159.0 635.0,158.5 637.0,158.4 639.0,158.8 641.0,159.6 643.0,160.3 645.0,161.0 647.0,161.0 649.0,160.0 651.0,159.8 653.0,160.0 655.0,162.2 657.0,164.0 658.7,165.5 660.3,163.9 662.0,165.6 664.0,162.7 666.0,161.0 668.0,161.1 670.0,161.0 672.0,162.2 674.0,163.0 676.0,163.8 678.0,164.4 680.0,163.5 682.0,163.0 683.5,162.8 685.0,162.0 687.0,166.1 689.0,170.0 690.5,166.7 692.0,164.0 693.5,163.7 695.0,161.0 697.0,163.2 699.0,165.0 700.5,163.7 702.0,163.0 704.0,163.3 706.0,163.6 708.0,162.7 710.0,162.0 711.5,160.0 713.0,158.0 715.0,153.3 717.0,151.0 719.0,150.8 721.0,151.0 722.8,149.5 724.6,147.0 726.3,149.4 728.0,153.0 729.5,154.5 731.0,156.0 733.0,156.0 735.0,155.0 736.7,155.6 738.3,156.1 740.0,155.6 741.5,151.9 743.0,150.0 744.5,145.8 746.0,142.0 747.5,141.3 749.0,141.0 750.5,138.3 752.0,135.0 754.0,134.5 756.0,133.0 758.0,132.8 760.0,135.0 761.3,132.0 762.6,128.0 764.3,126.8 766.0,127.0 767.5,124.8 769.0,122.0 770.5,118.3 772.0,116.0 774.0,115.1 776.0,114.0 777.5,115.1 779.0,115.0 780.5,115.9 782.0,117.0 784.0,109.0 785.5,110.1 787.0,111.0 788.5,109.9 790.0,108.0 791.5,107.6 793.0,107.0 794.5,106.0 796.0,105.0 797.5,108.8 799.0,111.0 800.0,105.0 801.0,124.0 803.0,124.0 804.5,122.5 806.0,120.0 808.0,122.0 810.0,113.0 811.3,112.4 812.6,112.0 814.6,120.0 817.0,124.0 819.0,126.0 820.6,130.0 822.6,127.0 825.0,126.0 827.0,118.0 828.6,118.0 830.0,126.0 831.5,128.2 833.0,128.0 835.5,128.0 835.5,385.9 833.5,385.9 831.7,371.8 830.5,350.6 828.7,335.6 826.4,351.5 824.3,350.6 823.0,353.5 821.6,357.6 820.3,351.6 819.0,345.3 816.9,355.9 815.8,336.5 814.6,326.8 812.8,316.2 811.1,314.4 809.8,324.1 807.5,327.6 805.8,321.5 803.5,334.7 802.2,330.3 801.0,329.4 799.2,310.0 796.9,310.9 794.6,315.3 793.4,340.0 791.6,352.4 789.9,336.5 788.1,325.9 785.8,327.6 784.1,317.1 782.8,338.2 781.1,349.7 780.2,331.2 778.8,315.3 777.0,317.9 774.9,322.4 772.8,315.3 771.0,307.4 769.9,315.3 768.7,338.2 767.5,362.9 765.7,354.1 763.9,355.0 762.2,362.9 761.1,394.7 760.6,430.0 759.4,455.0 757.0,455.0 755.5,460.6 754.0,468.0 752.0,462.0 750.0,470.0 748.5,476.4 747.0,482.0 745.5,491.4 744.0,498.0 742.0,508.0 740.6,524.0 739.3,525.1 738.0,522.0 736.0,542.0 734.0,528.0 732.5,523.2 731.0,518.0 728.6,522.0 727.3,514.5 726.0,514.0 724.5,512.5 723.0,513.0 720.6,532.0 719.3,524.5 718.0,517.0 716.6,524.0 715.0,560.0 713.4,540.0 711.4,530.0 709.0,525.0 707.0,529.0 704.6,546.0 702.6,540.0 701.3,537.3 700.0,533.0 698.5,539.6 697.0,539.0 694.6,535.0 693.0,548.0 691.4,542.0 689.0,552.0 686.6,558.0 684.6,547.0 682.6,568.0 681.3,557.4 680.0,548.0 678.0,550.0 676.5,544.5 675.0,540.0 672.6,532.0 671.3,535.3 670.0,540.0 668.5,535.1 667.0,529.0 665.0,538.0 663.5,536.8 662.0,532.0 660.5,525.6 659.0,524.0 657.5,525.6 656.0,533.0 654.0,524.0 652.0,532.0 650.7,536.6 649.4,542.0 648.0,523.0 646.6,535.0 645.0,527.0 643.0,540.0 640.6,531.0 639.3,529.7 638.0,530.0 636.7,532.5 635.4,536.0 633.0,533.0 631.0,552.0 629.0,542.0 627.0,558.0 625.5,552.1 624.0,547.0 622.7,545.2 621.4,542.0 619.4,555.0 618.0,542.0 617.0,548.0 615.5,551.2 614.0,557.0 612.7,554.6 611.4,552.0 609.4,539.0 607.0,548.0 605.5,548.1 604.0,555.0 602.7,559.1 601.4,563.0 599.0,558.0 597.0,573.0 596.0,560.0 594.0,548.0 592.6,562.0 590.6,558.0 588.6,570.0 587.3,568.6 586.0,566.0 584.4,555.0 583.0,569.0 581.0,581.0 579.5,575.9 578.0,569.0 576.7,575.1 575.4,578.0 573.0,587.0 571.0,565.0 568.6,583.0 566.6,572.0 564.6,571.0 563.3,575.2 562.0,579.0 560.5,575.1 559.0,571.0 557.0,583.0 556.0,574.0 554.0,563.0 552.7,564.0 551.4,568.0 549.0,570.0 547.5,560.7 546.0,557.0 544.5,559.1 543.0,562.0 541.0,554.0 539.4,569.0 538.0,558.0 536.0,544.0 534.5,546.9 533.0,551.0 531.5,545.1 530.0,540.0 528.0,529.0 526.6,540.0 524.6,530.0 523.4,538.0 521.4,531.0 519.0,544.0 517.0,554.0 515.4,544.0 513.4,522.0 511.4,534.0 509.0,548.0 507.4,562.0 506.0,546.0 504.0,526.0 502.6,508.0 500.6,512.0 499.4,482.0 498.0,508.0 496.0,523.0 494.0,492.0 492.6,474.0 491.0,476.0 489.4,468.0 488.4,431.0 487.0,446.0 485.4,469.0 483.4,478.0 482.0,456.0 480.6,440.0 479.0,426.0 477.0,418.0 475.4,400.0 473.0,396.0 471.0,379.0 469.4,396.0 468.0,414.0 466.0,420.0 464.6,410.0 462.6,404.0 461.0,378.0 459.0,388.0 458.0,372.0 456.0,364.0 454.6,395.0 453.4,374.0 452.0,356.0 450.6,344.0 449.3,342.6 448.0,340.0 446.5,344.2 445.0,348.0 443.5,347.6 442.0,344.0 440.7,339.2 439.4,332.0 437.4,321.0 435.6,342.0 434.0,320.0 432.6,322.0 430.6,307.0 429.3,304.2 428.0,304.0 426.0,311.0 424.7,306.7 423.4,303.0 421.0,300.0 419.5,301.4 418.0,302.0 416.7,312.0 415.4,316.0 413.4,310.0 412.0,316.0 409.6,298.0 407.4,306.0 405.0,310.0 402.6,300.0 401.0,306.0 398.6,294.0 397.0,300.0 394.6,291.0 392.8,295.0 391.0,297.0 389.0,288.0 387.0,302.0 385.5,304.2 384.0,301.0 382.5,298.0 381.0,296.0 379.4,325.0 378.0,310.0 376.0,293.0 374.7,298.5 373.4,302.0 371.0,295.0 368.6,306.0 366.6,290.0 364.6,292.0 362.6,294.0 360.6,309.0 359.0,306.0 356.6,297.0 355.3,299.4 354.0,302.0 352.7,306.3 351.4,310.0 349.4,301.0 348.0,305.0 346.0,296.0 344.6,306.0 342.6,318.0 341.0,306.0 338.6,310.0 337.3,302.9 336.0,297.0 334.0,317.0 332.7,314.4 331.4,316.0 330.0,316.9 328.6,320.0 326.6,314.0 325.0,336.0 323.4,338.0 321.4,352.0 319.0,341.0 317.5,344.7 316.0,347.0 314.5,349.5 313.0,350.0 311.0,345.0 309.0,348.0 307.4,372.0 305.4,348.0 303.4,358.0 301.4,350.0 299.0,349.0 297.0,356.0 295.0,367.0 292.6,360.0 291.0,366.0 289.0,354.0 287.5,360.7 286.0,364.0 284.7,351.2 283.4,342.0 281.4,350.0 279.0,364.0 277.4,347.0 276.0,352.0 274.0,336.0 272.7,356.6 271.4,380.0 269.4,358.0 267.0,373.0 265.0,357.0 263.0,352.0 261.0,392.0 258.6,362.0 257.0,374.0 255.8,378.3 254.6,387.0 253.3,378.4 252.0,370.0 250.0,354.0 248.5,361.6 247.0,376.0 245.8,386.2 244.6,395.0 243.0,376.0 241.0,342.0 239.0,339.0 237.8,349.1 236.6,359.0 234.6,332.0 232.6,336.0 230.6,331.0 228.8,336.1 227.0,343.0 225.8,346.9 224.6,351.0 222.6,321.0 221.3,323.4 220.0,329.0 218.5,332.0 217.0,336.0 215.8,342.4 214.6,348.0 213.3,348.9 212.0,347.0 210.7,343.8 209.4,342.0 208.0,342.5 206.6,347.0 204.6,331.0 203.3,329.1 202.0,328.0 200.6,350.0 199.0,358.0 198.0,376.0 196.0,387.0 194.0,375.0 192.0,379.0 190.7,381.5 189.4,383.0 187.4,378.0 186.2,386.1 185.0,394.0 183.0,410.0 181.0,387.0 179.4,402.0 178.0,408.0 176.6,396.0 175.0,418.0 173.4,414.0 172.6,426.0 171.4,450.0 171.0,464.0 170.0,486.0 168.6,468.0 167.0,470.0 166.0,480.0 164.6,502.0 163.0,520.0 161.4,534.0 160.0,564.0 158.6,585.0 157.0,560.0 155.4,536.0 154.0,520.0 152.4,507.0 151.0,514.0 149.4,523.0 147.6,506.0 146.0,497.0 144.5,499.3 143.0,498.0 141.0,491.0 139.4,500.0 137.4,518.0 135.4,531.0 134.2,531.8 133.0,528.0 131.8,532.9 130.6,534.0 128.6,520.0 126.6,512.0 125.3,513.8 124.0,515.0 122.7,511.1 121.4,510.0 119.6,528.0 118.5,528.0" fill="#2b2bff"/>
<polyline points="118.5,528.0 119.6,528.0 121.4,510.0 122.7,511.1 124.0,515.0 125.3,513.8 126.6,512.0 128.6,520.0 130.6,534.0 131.8,532.9 133.0,528.0 134.2,531.8 135.4,531.0 137.4,518.0 139.4,500.0 141.0,491.0 143.0,498.0 144.5,499.3 146.0,497.0 147.6,506.0 149.4,523.0 151.0,514.0 152.4,507.0 154.0,520.0 155.4,536.0 157.0,560.0 158.6,585.0 160.0,564.0 161.4,534.0 163.0,520.0 164.6,502.0 166.0,480.0 167.0,470.0 168.6,468.0 170.0,486.0 171.0,464.0 171.4,450.0 172.6,426.0 173.4,414.0 175.0,418.0 176.6,396.0 178.0,408.0 179.4,402.0 181.0,387.0 183.0,410.0 185.0,394.0 186.2,386.1 187.4,378.0 189.4,383.0 190.7,381.5 192.0,379.0 194.0,375.0 196.0,387.0 198.0,376.0 199.0,358.0 200.6,350.0 202.0,328.0 203.3,329.1 204.6,331.0 206.6,347.0 208.0,342.5 209.4,342.0 210.7,343.8 212.0,347.0 213.3,348.9 214.6,348.0 215.8,342.4 217.0,336.0 218.5,332.0 220.0,329.0 221.3,323.4 222.6,321.0 224.6,351.0 225.8,346.9 227.0,343.0 228.8,336.1 230.6,331.0 232.6,336.0 234.6,332.0 236.6,359.0 237.8,349.1 239.0,339.0 241.0,342.0 243.0,376.0 244.6,395.0 245.8,386.2 247.0,376.0 248.5,361.6 250.0,354.0 252.0,370.0 253.3,378.4 254.6,387.0 255.8,378.3 257.0,374.0 258.6,362.0 261.0,392.0 263.0,352.0 265.0,357.0 267.0,373.0 269.4,358.0 271.4,380.0 272.7,356.6 274.0,336.0 276.0,352.0 277.4,347.0 279.0,364.0 281.4,350.0 283.4,342.0 284.7,351.2 286.0,364.0 287.5,360.7 289.0,354.0 291.0,366.0 292.6,360.0 295.0,367.0 297.0,356.0 299.0,349.0 301.4,350.0 303.4,358.0 305.4,348.0 307.4,372.0 309.0,348.0 311.0,345.0 313.0,350.0 314.5,349.5 316.0,347.0 317.5,344.7 319.0,341.0 321.4,352.0 323.4,338.0 325.0,336.0 326.6,314.0 328.6,320.0 330.0,316.9 331.4,316.0 332.7,314.4 334.0,317.0 336.0,297.0 337.3,302.9 338.6,310.0 341.0,306.0 342.6,318.0 344.6,306.0 346.0,296.0 348.0,305.0 349.4,301.0 351.4,310.0 352.7,306.3 354.0,302.0 355.3,299.4 356.6,297.0 359.0,306.0 360.6,309.0 362.6,294.0 364.6,292.0 366.6,290.0 368.6,306.0 371.0,295.0 373.4,302.0 374.7,298.5 376.0,293.0 378.0,310.0 379.4,325.0 381.0,296.0 382.5,298.0 384.0,301.0 385.5,304.2 387.0,302.0 389.0,288.0 391.0,297.0 392.8,295.0 394.6,291.0 397.0,300.0 398.6,294.0 401.0,306.0 402.6,300.0 405.0,310.0 407.4,306.0 409.6,298.0 412.0,316.0 413.4,310.0 415.4,316.0 416.7,312.0 418.0,302.0 419.5,301.4 421.0,300.0 423.4,303.0 424.7,306.7 426.0,311.0 428.0,304.0 429.3,304.2 430.6,307.0 432.6,322.0 434.0,320.0 435.6,342.0 437.4,321.0 439.4,332.0 440.7,339.2 442.0,344.0 443.5,347.6 445.0,348.0 446.5,344.2 448.0,340.0 449.3,342.6 450.6,344.0 452.0,356.0 453.4,374.0 454.6,395.0 456.0,364.0 458.0,372.0 459.0,388.0 461.0,378.0 462.6,404.0 464.6,410.0 466.0,420.0 468.0,414.0 469.4,396.0 471.0,379.0 473.0,396.0 475.4,400.0 477.0,418.0 479.0,426.0 480.6,440.0 482.0,456.0 483.4,478.0 485.4,469.0 487.0,446.0 488.4,431.0 489.4,468.0 491.0,476.0 492.6,474.0 494.0,492.0 496.0,523.0 498.0,508.0 499.4,482.0 500.6,512.0 502.6,508.0 504.0,526.0 506.0,546.0 507.4,562.0 509.0,548.0 511.4,534.0 513.4,522.0 515.4,544.0 517.0,554.0 519.0,544.0 521.4,531.0 523.4,538.0 524.6,530.0 526.6,540.0 528.0,529.0 530.0,540.0 531.5,545.1 533.0,551.0 534.5,546.9 536.0,544.0 538.0,558.0 539.4,569.0 541.0,554.0 543.0,562.0 544.5,559.1 546.0,557.0 547.5,560.7 549.0,570.0 551.4,568.0 552.7,564.0 554.0,563.0 556.0,574.0 557.0,583.0 559.0,571.0 560.5,575.1 562.0,579.0 563.3,575.2 564.6,571.0 566.6,572.0 568.6,583.0 571.0,565.0 573.0,587.0 575.4,578.0 576.7,575.1 578.0,569.0 579.5,575.9 581.0,581.0 583.0,569.0 584.4,555.0 586.0,566.0 587.3,568.6 588.6,570.0 590.6,558.0 592.6,562.0 594.0,548.0 596.0,560.0 597.0,573.0 599.0,558.0 601.4,563.0 602.7,559.1 604.0,555.0 605.5,548.1 607.0,548.0 609.4,539.0 611.4,552.0 612.7,554.6 614.0,557.0 615.5,551.2 617.0,548.0 618.0,542.0 619.4,555.0 621.4,542.0 622.7,545.2 624.0,547.0 625.5,552.1 627.0,558.0 629.0,542.0 631.0,552.0 633.0,533.0 635.4,536.0 636.7,532.5 638.0,530.0 639.3,529.7 640.6,531.0 643.0,540.0 645.0,527.0 646.6,535.0 648.0,523.0 649.4,542.0 650.7,536.6 652.0,532.0 654.0,524.0 656.0,533.0 657.5,525.6 659.0,524.0 660.5,525.6 662.0,532.0 663.5,536.8 665.0,538.0 667.0,529.0 668.5,535.1 670.0,540.0 671.3,535.3 672.6,532.0 675.0,540.0 676.5,544.5 678.0,550.0 680.0,548.0 681.3,557.4 682.6,568.0 684.6,547.0 686.6,558.0 689.0,552.0 691.4,542.0 693.0,548.0 694.6,535.0 697.0,539.0 698.5,539.6 700.0,533.0 701.3,537.3 702.6,540.0 704.6,546.0 707.0,529.0 709.0,525.0 711.4,530.0 713.4,540.0 715.0,560.0 716.6,524.0 718.0,517.0 719.3,524.5 720.6,532.0 723.0,513.0 724.5,512.5 726.0,514.0 727.3,514.5 728.6,522.0 731.0,518.0 732.5,523.2 734.0,528.0 736.0,542.0 738.0,522.0 739.3,525.1 740.6,524.0 742.0,508.0 744.0,498.0 745.5,491.4 747.0,482.0 748.5,476.4 750.0,470.0 752.0,462.0 754.0,468.0 755.5,460.6 757.0,455.0 759.4,455.0 760.6,430.0 761.1,394.7 762.2,362.9 763.9,355.0 765.7,354.1 767.5,362.9 768.7,338.2 769.9,315.3 771.0,307.4 772.8,315.3 774.9,322.4 777.0,317.9 778.8,315.3 780.2,331.2 781.1,349.7 782.8,338.2 784.1,317.1 785.8,327.6 788.1,325.9 789.9,336.5 791.6,352.4 793.4,340.0 794.6,315.3 796.9,310.9 799.2,310.0 801.0,329.4 802.2,330.3 803.5,334.7 805.8,321.5 807.5,327.6 809.8,324.1 811.1,314.4 812.8,316.2 814.6,326.8 815.8,336.5 816.9,355.9 819.0,345.3 820.3,351.6 821.6,357.6 823.0,353.5 824.3,350.6 826.4,351.5 828.7,335.6 830.5,350.6 831.7,371.8 833.5,385.9 835.5,385.9" fill="none" stroke="#7a7aff" stroke-width="1.3" stroke-dasharray="4.8 2.1" stroke-linejoin="round"/>
<polyline points="118.5,671.0 119.6,671.0 121.5,665.6 123.4,663.0 125.2,665.3 127.0,669.0 128.5,675.6 130.0,684.0 131.5,677.0 133.0,671.0 134.2,677.6 135.4,682.0 136.7,674.9 138.0,673.0 139.5,675.5 141.0,679.0 143.0,682.0 144.5,678.8 146.0,677.0 147.5,681.2 149.0,688.0 150.5,692.8 152.0,698.0 154.0,711.0 156.0,707.0 158.0,725.0 160.0,731.0 161.3,725.5 162.6,720.0 164.6,726.0 166.6,718.0 167.8,725.6 169.0,726.0 170.2,729.0 171.4,731.0 173.0,723.0 175.0,725.0 177.0,721.0 179.0,719.5 181.0,718.0 182.5,719.3 184.0,718.0 185.5,712.9 187.0,711.0 188.5,708.6 190.0,708.0 191.5,706.3 193.0,703.0 194.5,703.2 196.0,705.0 197.5,700.0 199.0,698.0 201.0,691.6 203.0,687.0 204.5,683.5 206.0,684.0 207.5,683.7 209.0,680.0 210.5,682.9 212.0,682.0 213.5,683.1 215.0,677.0 216.5,674.6 218.0,673.0 219.5,675.7 221.0,679.0 222.5,676.2 224.0,674.0 225.5,671.3 227.0,667.0 228.5,668.5 230.0,670.0 232.0,669.7 234.0,667.0 235.5,667.0 237.0,668.0 239.0,659.0 240.5,658.4 242.0,662.0 243.5,665.9 245.0,665.0 246.5,659.8 248.0,656.0 250.0,652.0 251.3,657.7 252.6,660.0 253.8,663.5 255.0,668.0 256.5,663.7 258.0,659.0 259.5,658.0 261.0,662.0 263.4,658.0 265.2,659.5 267.0,664.0 269.4,661.0 271.0,658.1 272.6,654.0 275.0,659.0 276.5,658.9 278.0,657.0 280.0,664.0 281.7,656.6 283.4,650.0 284.7,655.2 286.0,660.0 287.5,657.7 289.0,661.0 291.0,659.1 293.0,657.0 294.7,655.3 296.3,654.1 298.0,655.0 299.7,656.5 301.3,656.3 303.0,658.0 305.0,659.2 307.0,663.0 309.0,648.0 310.6,645.0 312.3,646.4 314.0,649.0 316.0,647.9 318.0,648.0 319.5,648.6 321.0,650.0 323.4,640.0 324.7,636.1 326.0,632.0 327.3,632.3 328.6,634.0 330.0,627.9 331.4,619.0 332.7,623.9 334.0,624.0 335.5,619.5 337.0,612.0 338.8,607.5 340.6,604.0 343.0,620.0 344.5,607.5 346.0,597.0 347.3,604.1 348.6,610.0 350.0,614.7 351.4,620.0 352.7,618.1 354.0,612.0 355.5,606.3 357.0,600.0 358.5,602.7 360.0,604.0 361.5,596.6 363.0,591.0 364.8,589.2 366.6,587.0 368.6,601.0 370.0,601.3 371.4,605.0 373.4,609.0 374.7,601.3 376.0,598.0 377.3,605.3 378.6,612.0 381.0,598.0 382.5,593.3 384.0,592.0 386.0,599.0 387.3,588.6 388.6,580.0 391.0,594.0 393.0,589.3 395.0,582.0 396.5,586.4 398.0,586.0 399.5,585.6 401.0,585.0 402.5,589.4 404.0,595.0 405.5,593.6 407.0,590.0 408.3,587.9 409.6,583.0 411.4,596.0 413.4,590.0 414.7,596.8 416.0,602.0 418.0,585.0 420.0,581.0 421.3,585.2 422.6,592.0 424.6,587.0 427.0,598.0 429.0,592.0 431.4,606.0 433.4,622.0 435.2,618.3 437.0,616.0 439.4,626.0 441.2,630.0 443.0,631.0 444.5,629.9 446.0,632.0 447.3,630.6 448.6,629.0 451.0,636.0 452.5,640.8 454.0,642.0 455.3,641.5 456.6,638.0 459.0,643.0 461.0,640.0 463.0,639.0 465.0,640.6 467.0,643.0 468.7,641.3 470.3,638.7 472.0,639.0 474.0,641.1 476.0,643.0 478.0,641.2 480.0,642.0 482.0,645.4 484.0,647.0 486.0,641.9 488.0,640.0 489.3,642.6 490.6,647.0 493.0,643.0 494.5,645.6 496.0,650.0 498.0,648.6 500.0,647.0 502.0,644.9 504.0,650.0 505.5,653.9 507.0,655.0 508.7,653.0 510.3,651.9 512.0,650.0 513.7,653.9 515.3,654.0 517.0,656.0 519.0,654.6 521.0,652.0 523.0,650.7 525.0,649.0 527.0,650.8 529.0,650.0 531.0,651.5 533.0,651.0 535.0,652.2 537.0,650.0 539.0,650.9 541.0,652.0 543.0,649.4 545.0,650.0 547.0,651.9 549.0,653.0 551.0,651.9 553.0,654.0 555.0,655.5 557.0,657.0 559.0,655.5 561.0,655.0 563.0,650.8 565.0,653.0 567.0,653.0 569.0,654.0 571.0,651.5 573.0,652.0 575.0,651.1 577.0,654.0 579.0,652.8 581.0,657.0 583.0,656.1 585.0,654.0 587.0,653.4 589.0,651.0 591.0,648.3 593.0,649.0 595.0,648.9 597.0,652.0 599.0,649.8 601.0,650.0 603.0,649.4 605.0,652.0 607.0,651.3 609.0,649.0 611.0,648.0 613.0,650.0 615.0,650.4 617.0,648.0 619.0,645.4 621.0,650.0 623.0,646.8 625.0,649.0 627.0,651.2 629.0,651.0 631.0,648.4 633.0,647.0 634.7,643.6 636.3,649.5 638.0,646.0 640.0,647.9 642.0,648.0 643.5,647.9 645.0,647.0 646.5,643.9 648.0,648.0 649.5,651.2 651.0,652.0 653.0,651.4 655.0,651.0 657.0,649.6 659.0,649.0 661.0,650.8 663.0,654.0 665.0,651.2 667.0,654.0 669.0,653.1 671.0,656.0 672.7,656.5 674.3,657.3 676.0,656.0 678.0,658.4 680.0,659.0 682.0,658.5 684.0,657.0 686.0,658.7 688.0,660.0 689.7,661.0 691.3,663.8 693.0,661.0 694.5,660.2 696.0,657.1 697.5,659.3 699.0,658.0 700.7,658.4 702.3,658.3 704.0,661.0 705.7,659.0 707.3,662.0 709.0,661.0 711.0,660.9 713.0,663.0 714.7,662.9 716.3,662.3 718.0,664.0 720.0,665.1 722.0,663.0 724.0,663.3 726.0,665.0 728.0,665.8 730.0,668.0 732.0,667.1 734.0,671.0 736.0,672.1 738.0,677.0 739.0,674.0 741.0,673.0 743.0,669.0 745.0,667.4 747.0,669.0 748.8,669.4 750.6,667.0 753.0,672.0 755.0,686.0 757.0,677.0 758.5,676.7 760.0,675.0 761.5,675.9 763.0,676.0 764.5,675.3 766.0,674.0 768.0,674.0 769.3,667.5 770.6,661.0 772.0,662.7 773.4,661.0 774.7,660.1 776.0,659.0 777.5,659.4 779.0,664.0 781.4,686.0 783.4,664.0 785.4,653.0 787.0,646.0 789.0,659.0 791.4,671.0 792.7,664.0 794.0,658.0 795.5,650.3 797.0,638.0 799.4,617.0 801.4,622.0 803.4,619.0 804.7,616.2 806.0,617.0 808.0,636.0 810.0,609.0 812.0,584.0 814.0,585.0 816.0,612.0 818.0,634.0 819.3,633.4 820.6,633.0 823.0,640.0 825.4,638.0 827.0,648.0 828.6,626.0 830.6,638.0 832.0,643.9 833.4,650.0 835.5,650.0" fill="none" stroke="#9a9aff" stroke-width="1.0" stroke-dasharray="3.7 1.6" stroke-opacity="0.6" stroke-linejoin="round"/>
<polyline points="118.5,732.0 119.6,732.0 121.0,732.0 122.2,726.3 123.4,724.0 125.0,732.0 126.6,732.0 128.2,732.0 129.8,732.0 131.4,732.0 133.0,732.0 134.6,732.0 136.2,732.0 137.8,732.0 139.4,732.0 141.0,732.0 142.6,732.0 144.2,732.0 145.8,732.0 147.4,732.0 149.0,732.0 150.6,732.0 152.2,732.0 153.8,732.0 155.4,732.0 157.0,732.0 158.6,732.0 160.2,732.0 161.8,732.0 163.4,732.0 165.0,732.0 166.6,732.0 168.2,732.0 169.8,732.0 171.4,732.0 173.0,732.0 174.6,732.0 176.2,732.0 177.8,732.0 179.4,732.0 181.0,732.0 182.6,732.0 184.2,732.0 185.8,732.0 187.4,732.0 189.0,732.0 190.6,732.0 192.2,732.0 193.8,732.0 195.4,732.0 197.0,732.0 198.6,732.0 200.2,732.0 201.8,732.0 203.4,732.0 205.0,732.0 206.5,729.5 208.0,726.0 210.0,732.0 211.7,732.0 213.3,732.0 215.0,732.0 217.0,724.0 219.0,732.0 221.0,732.0 223.0,728.0 225.0,722.0 227.0,714.0 228.5,714.4 230.0,712.0 231.5,712.3 233.0,714.0 234.5,710.6 236.0,711.0 237.5,708.9 239.0,707.0 240.5,709.7 242.0,711.0 243.5,713.0 245.0,712.0 247.0,704.0 248.5,700.8 250.0,701.0 252.0,708.0 253.5,707.7 255.0,711.0 256.5,707.5 258.0,702.0 259.5,705.2 261.0,707.0 262.5,708.6 264.0,706.0 265.5,708.4 267.0,708.0 268.5,703.9 270.0,700.0 271.5,699.1 273.0,699.0 274.5,704.4 276.0,703.0 277.5,704.1 279.0,706.0 280.5,700.9 282.0,698.0 283.5,699.4 285.0,704.0 287.0,705.6 289.0,707.0 291.0,705.2 293.0,703.0 295.0,700.5 297.0,699.0 299.0,699.9 301.0,701.0 302.8,702.9 304.6,704.0 306.3,700.5 308.0,695.0 309.5,693.0 311.0,688.0 312.5,689.3 314.0,690.0 315.5,689.0 317.0,693.0 318.5,691.0 320.0,687.0 321.5,684.0 323.0,685.0 324.5,682.8 326.0,681.0 327.5,679.4 329.0,682.0 330.5,680.0 332.0,678.0 334.0,677.4 336.0,679.0 337.3,675.8 338.6,672.0 340.6,666.0 343.0,670.0 344.5,671.9 346.0,667.0 347.5,668.9 349.0,671.0 350.5,673.7 352.0,674.0 353.5,668.6 355.0,667.0 356.5,662.6 358.0,659.0 359.3,659.9 360.6,659.0 362.0,654.9 363.4,651.0 364.7,655.0 366.0,658.0 367.5,660.1 369.0,662.0 370.5,660.1 372.0,661.0 373.5,660.8 375.0,659.0 376.5,659.9 378.0,663.0 379.5,661.6 381.0,655.0 382.5,653.8 384.0,654.0 385.5,654.0 387.0,652.0 388.6,646.0 391.0,653.0 392.5,652.5 394.0,652.0 395.5,654.3 397.0,654.0 398.5,652.2 400.0,652.0 401.5,654.4 403.0,654.0 404.5,654.8 406.0,656.0 407.5,656.3 409.0,653.0 410.5,655.4 412.0,656.0 413.5,654.7 415.0,653.0 417.0,656.0 419.0,649.0 420.5,649.4 422.0,652.0 423.5,654.1 425.0,654.0 426.5,655.7 428.0,656.0 429.3,662.3 430.6,664.0 432.3,665.0 434.0,667.0 435.5,666.8 437.0,665.0 439.0,666.7 441.0,667.0 443.0,667.9 445.0,668.0 447.0,668.3 449.0,668.0 450.5,668.8 452.0,669.0 453.5,668.7 455.0,670.0 457.0,667.1 459.0,667.0 461.0,666.9 463.0,668.0 465.0,669.3 467.0,669.0 469.0,670.1 471.0,667.0 473.0,668.9 475.0,668.0 477.0,669.5 479.0,668.0 480.7,668.4 482.3,667.6 484.0,666.0 486.0,667.8 488.0,669.0 490.0,669.1 492.0,667.0 494.0,671.0 496.0,670.0 498.0,669.0 500.0,669.0 501.5,667.5 503.0,668.0 505.0,673.7 507.0,674.0 508.7,673.3 510.3,673.4 512.0,671.0 514.0,675.2 516.0,677.0 517.5,673.9 519.0,674.0 521.0,674.9 523.0,669.0 525.0,671.0 527.0,668.0 529.0,669.2 531.0,670.0 533.0,670.6 535.0,669.0 537.0,671.7 539.0,674.0 541.0,670.3 543.0,669.0 545.0,670.3 547.0,672.0 549.0,673.5 551.0,674.0 553.0,676.6 555.0,676.0 557.0,679.0 559.0,679.0 561.0,677.0 563.0,676.1 565.0,675.0 567.0,676.4 569.0,674.0 571.0,673.4 573.0,675.0 575.0,676.6 577.0,676.0 578.5,679.1 580.0,679.0 582.0,677.1 584.0,676.0 586.0,672.5 588.0,674.0 590.0,671.2 592.0,671.0 594.0,670.3 596.0,669.0 598.0,670.2 600.0,670.0 602.0,672.7 604.0,671.0 606.0,668.6 608.0,669.0 610.0,669.0 612.0,669.0 613.7,669.2 615.3,667.4 617.0,667.0 619.0,664.2 621.0,668.0 623.0,669.6 625.0,669.0 627.0,672.7 629.0,670.0 631.0,670.4 633.0,668.0 635.0,666.7 637.0,668.0 639.0,668.4 641.0,670.0 643.0,671.3 645.0,672.0 647.0,676.4 649.0,674.0 651.0,674.9 653.0,674.0 655.0,674.7 657.0,675.0 659.0,677.7 661.0,676.0 663.0,676.9 665.0,678.0 667.0,681.1 669.0,679.0 670.7,678.4 672.3,679.0 674.0,680.0 676.0,682.0 678.0,682.0 680.0,685.0 682.0,684.0 684.0,685.4 686.0,685.0 687.5,685.9 689.0,686.0 690.5,685.4 692.0,690.0 694.0,688.5 696.0,689.0 698.0,687.6 700.0,688.0 702.0,686.8 704.0,687.0 705.5,690.3 707.0,692.0 709.0,690.5 711.0,690.0 713.0,693.6 715.0,695.0 717.0,696.6 719.0,698.0 721.0,696.5 723.0,696.0 725.0,699.7 727.0,703.0 729.0,705.6 731.0,707.0 733.0,709.7 735.0,710.0 736.5,711.3 738.0,714.0 739.0,717.0 740.5,715.7 742.0,715.0 743.5,714.1 745.0,717.0 746.5,718.7 748.0,716.0 749.5,719.5 751.0,719.0 753.0,725.0 755.0,731.0 756.5,727.2 758.0,724.0 759.5,725.8 761.0,729.0 762.5,728.6 764.0,731.6 765.5,729.5 767.0,727.0 768.5,726.3 770.0,725.0 771.5,728.6 773.0,726.0 774.5,722.8 776.0,719.0 778.0,725.0 779.3,727.4 780.6,732.0 782.3,732.0 784.0,732.0 785.4,718.0 786.6,708.0 788.0,722.0 790.0,732.0 792.0,732.0 794.0,732.0 796.0,728.0 798.0,716.0 800.0,704.0 801.3,701.6 802.6,706.0 804.6,701.0 806.0,696.0 807.4,710.0 809.4,720.0 811.4,710.0 813.4,704.0 815.4,712.0 816.7,719.0 818.0,722.0 819.3,721.3 820.6,720.0 823.0,727.0 825.4,718.0 827.0,716.0 828.6,706.0 830.6,718.0 832.0,719.7 833.4,726.0 835.5,726.0" fill="none" stroke="#b8b8ff" stroke-width="0.8" stroke-dasharray="3 1.3" stroke-opacity="0.6" stroke-linejoin="round"/>
<polyline points="118.5,74.7 119.5,74.7 121.3,74.7 123.2,74.7 125.0,74.7 126.5,74.7 128.0,74.6 129.5,74.7 131.0,74.7 132.5,74.6 134.0,74.8 135.5,74.3 137.0,74.5 139.0,74.8 141.0,74.2 142.2,73.1 143.5,73.0 145.5,72.3 147.5,72.8 149.0,75.0 151.0,75.2 153.0,75.3 155.0,75.5 157.0,75.3 159.0,75.0 161.0,74.7 162.5,73.7 164.0,73.0 165.2,72.7 166.5,72.5 168.5,73.2 169.8,74.0 171.0,74.5 173.0,74.9 175.0,74.8 177.0,74.6 179.0,75.0 181.0,74.8 183.0,74.5 184.5,74.3 186.0,74.6 187.5,74.2 189.0,74.3 190.5,74.3 192.0,74.5 193.5,74.2 195.0,74.2 197.0,74.1 199.0,74.0 200.7,73.6 202.3,73.4 204.0,73.2 205.5,72.7 207.0,73.0 208.6,72.7 210.2,72.7 211.8,72.6 213.4,73.1 215.0,72.6 216.6,72.1 218.2,72.0 219.8,72.5 221.4,72.5 223.0,72.4 224.6,72.5 226.2,72.9 227.8,73.2 229.4,72.8 231.0,73.0 232.6,72.8 234.2,73.2 235.8,73.6 237.4,73.5 239.0,73.6 240.6,73.7 242.2,74.0 243.8,74.1 245.4,73.9 247.0,74.4 248.6,74.5 250.2,74.3 251.8,74.5 253.4,74.4 255.0,74.6 256.6,74.6 258.2,74.7 259.8,74.4 261.4,74.5 263.0,74.4 264.6,74.6 266.2,74.5 267.8,74.2 269.4,74.5 271.0,74.4 272.6,74.3 274.2,74.4 275.8,74.5 277.4,74.9 279.0,74.6 280.5,74.4 282.0,74.4 283.5,74.5 285.0,74.4 287.0,74.2 289.0,74.4 290.6,74.4 292.2,74.7 293.8,74.1 295.4,74.6 297.0,74.6 298.6,74.4 300.2,74.9 301.8,74.6 303.4,74.6 305.0,74.4 306.6,74.4 308.2,74.3 309.8,74.5 311.4,74.6 313.0,74.6 314.6,74.6 316.2,74.9 317.8,74.6 319.4,74.2 321.0,74.4 323.0,73.9 325.0,73.6 327.0,73.1 329.0,72.6 330.6,72.3 332.2,72.5 333.8,72.3 335.4,72.5 337.0,72.4 338.6,72.5 340.2,72.3 341.8,72.8 343.4,72.4 345.0,72.6 346.6,72.7 348.2,72.4 349.8,72.4 351.4,72.5 353.0,72.6 354.5,72.8 356.0,73.3 357.5,73.0 359.0,73.6 360.5,74.1 362.0,73.7 363.5,74.5 365.0,74.4 367.0,74.0 369.0,73.6 370.6,73.4 372.2,73.5 373.8,73.1 375.4,73.1 377.0,73.0 378.6,73.1 380.2,73.7 381.8,73.1 383.4,73.9 385.0,73.6 386.6,73.5 388.2,73.4 389.8,73.5 391.4,73.8 393.0,73.6 394.6,73.5 396.2,73.4 397.8,73.7 399.4,73.6 401.0,73.6 402.6,73.8 404.2,73.4 405.8,73.9 407.4,73.8 409.0,73.6 410.6,73.5 412.2,73.7 413.8,73.9 415.4,73.9 417.0,74.0 418.6,74.3 420.2,74.3 421.8,74.3 423.4,74.2 425.0,74.6 426.6,74.2 428.2,74.6 429.8,74.3 431.4,74.8 433.0,74.6 434.6,74.9 436.2,74.6 437.8,74.8 439.4,74.8 441.0,74.6 442.6,74.6 444.2,74.1 445.8,74.0 447.4,74.0 449.0,74.0 450.5,74.3 452.0,74.3 453.5,74.8 455.0,75.0 456.5,75.1 458.0,74.6 459.0,74.4 460.5,74.0 462.0,73.7 463.5,73.1 465.0,73.0 466.5,72.8 468.0,72.9 469.5,72.8 471.0,72.4 472.5,72.7 474.0,72.8 475.5,73.7 477.0,73.6 478.5,73.0 480.0,73.2 481.5,73.0 483.0,73.0 484.5,73.0 486.0,73.1 487.5,72.9 489.0,73.0 490.5,73.8 492.0,74.1 493.5,74.2 495.0,74.4 496.5,74.4 498.0,74.4 499.5,75.1 501.0,75.0 502.6,75.3 504.2,75.3 505.8,75.6 507.4,75.6 509.0,75.6 510.7,75.4 512.3,75.3 514.0,75.7 515.7,75.9 517.3,76.0 519.0,76.0 520.7,76.0 522.3,75.8 524.0,75.6 525.7,75.8 527.3,75.8 529.0,75.6 530.7,75.5 532.3,75.5 534.0,75.7 535.7,75.6 537.3,76.0 539.0,76.0 540.7,75.7 542.3,76.1 544.0,75.8 545.7,76.1 547.3,76.5 549.0,76.0 550.7,75.8 552.3,76.1 554.0,76.7 555.7,76.4 557.3,76.4 559.0,76.4 560.7,76.5 562.3,76.3 564.0,76.1 565.7,75.9 567.3,76.2 569.0,76.4 570.5,76.1 572.0,76.2 573.5,75.8 575.0,75.6 576.6,75.3 578.2,75.7 579.8,75.3 581.4,75.8 583.0,75.6 584.6,75.5 586.2,76.1 587.8,76.1 589.4,76.1 591.0,76.4 592.6,76.6 594.2,76.3 595.8,75.9 597.4,76.5 599.0,76.4 600.7,76.2 602.3,76.3 604.0,76.4 605.7,76.5 607.3,76.4 609.0,76.4 610.7,76.2 612.3,76.2 614.0,76.1 615.7,76.3 617.3,76.2 619.0,76.4 620.5,76.6 622.0,76.4 623.5,76.9 625.0,77.2 626.5,77.0 628.0,77.0 629.0,77.0 630.7,76.9 632.3,77.2 634.0,76.8 635.7,77.0 637.3,77.3 639.0,77.0 640.7,77.1 642.3,76.9 644.0,76.9 645.7,76.9 647.3,77.3 649.0,77.0 650.7,77.3 652.3,77.1 654.0,76.7 655.7,76.7 657.3,76.3 659.0,76.4 660.7,76.2 662.3,76.5 664.0,76.5 665.7,76.1 667.3,76.1 669.0,76.4 670.7,76.4 672.3,76.0 674.0,76.4 675.7,76.4 677.3,75.8 679.0,76.0 680.5,75.8 682.0,75.9 683.5,75.7 685.0,75.4 686.6,75.6 688.2,75.8 689.8,75.9 691.4,76.3 693.0,76.4 694.6,76.5 696.2,76.3 697.8,76.3 699.4,76.4 701.0,76.4 702.6,76.2 704.2,76.0 705.8,75.6 707.4,75.8 709.0,75.6 710.6,75.5 712.2,75.2 713.8,75.2 715.4,74.9 717.0,74.6 718.6,75.0 720.2,75.3 721.8,75.0 723.4,75.8 725.0,76.0 726.6,76.3 728.2,75.9 729.8,75.8 731.4,76.1 733.0,76.4 734.6,76.2 736.2,76.3 737.8,75.8 739.4,76.0 741.0,76.0 742.6,75.6 744.2,75.8 745.8,75.6 747.4,75.5 749.0,75.4 750.5,74.8 752.0,74.4 753.5,74.2 755.0,73.6 756.5,73.1 758.0,73.1 759.5,72.7 761.0,72.6 762.6,72.4 764.2,72.2 765.8,72.5 767.4,72.3 769.0,72.0 770.6,72.0 772.2,72.6 773.8,72.3 775.4,72.6 777.0,72.4 779.0,73.0 781.0,74.0 782.5,74.1 784.0,74.3 785.5,75.2 787.0,75.0 788.5,75.0 790.0,74.6 791.5,74.6 793.0,74.4 794.7,74.4 796.3,74.5 798.0,74.6 799.0,75.6 800.5,75.3 802.0,75.5 803.5,75.3 805.0,74.9 806.5,75.0 808.0,75.0 809.5,74.8 811.0,74.6 812.6,74.7 814.2,75.0 815.8,75.2 817.4,75.6 819.0,75.4 820.6,75.3 822.2,75.5 823.8,75.4 825.4,75.3 827.0,75.4 828.6,75.4 830.2,75.1 831.8,75.2 833.4,75.4 835.5,75.4" fill="none" stroke="#0c0c96" stroke-width="0.8" stroke-dasharray="3.8 1.2" stroke-linejoin="round"/>
<polyline points="118.5,78.0 119.5,78.0 121.3,78.2 123.2,78.1 125.0,77.8 126.5,77.6 128.0,77.5 129.5,77.9 131.0,78.0 132.5,78.1 134.0,77.9 135.5,77.6 137.0,77.8 138.5,77.6 140.0,77.9 141.5,77.3 143.0,77.5 145.0,77.9 147.0,77.8 148.5,79.0 150.0,81.0 152.0,80.5 153.5,80.4 155.0,80.0 157.0,79.7 159.0,79.2 160.7,79.2 162.3,78.8 164.0,78.8 165.7,78.7 167.3,79.0 169.0,78.5 170.5,78.4 172.0,78.4 173.5,78.2 175.0,78.5 176.5,78.4 178.0,78.6 179.5,78.7 181.0,78.5 182.6,78.6 184.2,78.6 185.8,78.6 187.4,78.6 189.0,78.5 190.5,78.7 192.0,78.4 193.5,78.6 195.0,78.3 196.5,78.2 198.0,77.9 199.5,77.9 201.0,78.1 202.5,78.0 204.0,78.0 205.5,77.8 207.0,78.0 208.6,77.8 210.2,78.0 211.8,78.1 213.4,78.2 215.0,78.0 216.6,77.7 218.2,77.9 219.8,78.0 221.4,77.8 223.0,77.6 224.6,78.0 226.2,77.5 227.8,77.6 229.4,77.6 231.0,77.6 232.6,77.6 234.2,77.8 235.8,77.9 237.4,77.9 239.0,78.0 240.6,78.0 242.2,78.1 243.8,78.2 245.4,78.0 247.0,78.4 248.6,78.4 250.2,78.2 251.8,78.4 253.4,78.2 255.0,78.4 256.6,78.4 258.2,78.3 259.8,78.3 261.4,78.3 263.0,78.4 264.6,78.5 266.2,79.0 267.8,78.4 269.4,79.0 271.0,79.0 272.6,79.1 274.2,79.1 275.8,79.0 277.4,79.6 279.0,79.4 280.5,79.3 282.0,79.4 283.5,79.0 285.0,79.0 287.0,78.9 289.0,79.0 290.5,79.4 292.0,79.4 293.5,79.4 295.0,79.6 296.5,79.7 298.0,79.9 299.5,79.7 301.0,80.0 302.5,79.6 304.0,79.5 305.5,79.4 307.0,79.0 308.5,79.3 310.0,79.3 311.5,79.7 313.0,79.6 314.5,79.7 316.0,79.7 317.5,80.4 319.0,80.0 321.0,79.7 323.0,79.6 325.0,78.4 327.0,77.0 329.0,76.4 331.0,75.6 332.5,75.6 334.0,75.5 335.5,75.6 337.0,75.4 338.6,75.5 340.2,75.4 341.8,75.5 343.4,75.8 345.0,75.6 346.6,75.8 348.2,75.7 349.8,75.9 351.4,75.7 353.0,76.0 354.5,76.0 356.0,76.4 357.5,77.1 359.0,77.0 360.7,77.2 362.3,77.3 364.0,78.0 365.7,77.5 367.3,76.9 369.0,76.6 370.5,76.7 372.0,76.7 373.5,76.4 375.0,76.4 376.5,76.6 378.0,76.5 379.5,77.1 381.0,77.0 382.5,76.8 384.0,76.8 385.5,77.2 387.0,76.6 388.5,76.5 390.0,76.8 391.5,76.9 393.0,77.0 394.6,77.1 396.2,77.1 397.8,77.3 399.4,77.1 401.0,77.0 402.6,77.2 404.2,77.0 405.8,77.4 407.4,77.2 409.0,77.6 410.6,78.0 412.2,77.9 413.8,78.3 415.4,78.1 417.0,78.4 418.6,78.6 420.2,78.7 421.8,78.9 423.4,78.9 425.0,79.0 426.6,79.0 428.2,79.2 429.8,79.2 431.4,79.3 433.0,79.6 434.6,79.5 436.2,79.6 437.8,80.5 439.4,80.1 441.0,80.4 442.6,80.3 444.2,80.8 445.8,80.8 447.4,80.9 449.0,81.0 450.5,81.4 452.0,81.7 453.5,81.3 455.0,81.6 456.5,81.6 458.0,81.0 459.0,81.0 460.6,80.9 462.2,80.8 463.8,80.3 465.4,80.5 467.0,80.0 468.6,80.3 470.2,79.8 471.8,80.6 473.4,80.7 475.0,80.6 476.6,80.2 478.2,80.4 479.8,80.2 481.4,80.2 483.0,80.0 484.6,80.0 486.2,80.4 487.8,80.5 489.4,80.5 491.0,80.6 492.6,80.7 494.2,80.4 495.8,80.9 497.4,80.7 499.0,81.0 500.7,81.1 502.3,81.0 504.0,81.7 505.7,81.3 507.3,81.6 509.0,81.4 510.7,81.3 512.3,81.3 514.0,81.3 515.7,81.1 517.3,81.5 519.0,81.0 520.7,81.0 522.3,81.3 524.0,80.8 525.7,80.8 527.3,81.1 529.0,81.0 530.7,80.9 532.3,81.7 534.0,81.6 535.7,81.7 537.3,82.2 539.0,82.0 540.7,82.0 542.3,82.1 544.0,81.8 545.7,82.0 547.3,82.4 549.0,82.6 550.7,82.2 552.3,82.8 554.0,82.8 555.7,82.7 557.3,82.3 559.0,82.6 560.7,82.5 562.3,82.5 564.0,82.9 565.7,83.1 567.3,82.9 569.0,83.0 570.7,83.1 572.3,83.2 574.0,83.4 575.7,83.2 577.3,83.3 579.0,83.6 580.7,83.8 582.3,83.8 584.0,83.9 585.7,83.9 587.3,84.1 589.0,84.0 590.6,84.0 592.2,83.7 593.8,84.1 595.4,83.9 597.0,83.6 599.0,84.6 601.0,85.6 602.5,85.2 604.0,84.7 605.5,84.1 607.0,84.0 608.6,84.0 610.2,84.1 611.8,84.5 613.4,84.9 615.0,85.0 616.6,85.0 618.2,84.7 619.8,85.0 621.4,84.9 623.0,85.0 624.7,84.6 626.3,84.8 628.0,84.4 629.0,85.0 631.0,85.3 633.0,86.0 634.7,85.8 636.3,85.0 638.0,85.0 639.7,85.7 641.3,86.2 643.0,87.0 644.5,86.5 646.0,85.6 647.5,87.7 649.0,89.6 650.5,87.1 652.0,85.0 654.0,84.4 656.0,83.6 658.0,84.6 660.0,85.0 661.7,84.9 663.3,84.6 665.0,84.0 666.5,83.7 668.0,84.0 669.5,83.3 671.0,83.2 672.6,83.1 674.2,82.7 675.8,82.8 677.4,82.4 679.0,82.6 680.7,82.6 682.3,82.1 684.0,82.8 685.7,82.5 687.3,82.6 689.0,82.2 690.7,82.3 692.3,82.0 694.0,82.0 695.7,81.8 697.3,81.3 699.0,81.6 700.7,81.3 702.3,81.4 704.0,81.6 705.7,81.1 707.3,81.3 709.0,81.2 710.6,80.9 712.2,81.0 713.8,80.9 715.4,80.4 717.0,80.4 718.6,80.3 720.2,80.9 721.8,81.0 723.4,80.9 725.0,81.0 726.6,81.3 728.2,81.3 729.8,81.5 731.4,81.4 733.0,81.6 734.6,81.9 736.2,82.3 737.8,82.4 739.4,82.5 741.0,82.4 742.6,82.1 744.2,82.0 745.8,81.5 747.4,81.2 749.0,81.0 750.6,80.8 752.2,80.4 753.8,80.4 755.4,79.9 757.0,80.0 758.6,80.2 760.2,80.0 761.8,79.8 763.4,79.5 765.0,79.6 766.6,79.4 768.2,79.4 769.8,79.0 771.4,79.2 773.0,79.2 774.6,79.0 776.2,79.4 777.8,79.5 779.4,79.5 781.0,79.2 782.6,78.8 784.2,78.7 785.8,79.1 787.4,78.9 789.0,78.6 790.5,78.7 792.0,78.5 793.5,78.4 795.0,78.6 796.5,78.3 798.0,78.0 799.0,78.6 800.6,79.0 802.2,79.0 803.8,79.5 805.4,80.0 807.0,80.0 808.6,79.8 810.2,79.6 811.8,79.1 813.4,79.0 815.0,78.6 816.6,78.6 818.2,78.7 819.8,79.1 821.4,79.3 823.0,79.0 824.7,79.0 826.5,79.1 828.2,79.2 829.9,79.2 831.7,79.3 833.4,79.4 835.5,79.4" fill="none" stroke="#040482" stroke-width="1.0" stroke-dasharray="4.6 1.4" stroke-linejoin="round"/>
<polyline points="118.5,81.5 119.5,81.5 121.3,81.3 123.2,81.6 125.0,81.0 126.5,80.8 128.0,80.6 129.5,81.3 131.0,81.3 132.5,81.4 134.0,81.3 135.5,81.2 137.0,81.0 138.5,80.9 140.0,80.7 141.5,80.6 143.0,80.8 144.8,80.9 146.5,81.0 147.5,85.0 148.2,95.0 148.8,107.0 149.3,117.0 149.8,107.0 150.5,95.0 151.2,87.0 152.5,84.0 153.8,83.6 155.0,83.3 157.0,83.2 159.0,82.5 161.0,82.2 163.0,81.5 165.0,80.9 167.0,81.0 169.0,81.2 171.0,81.0 173.0,81.0 175.0,81.0 176.5,81.4 178.0,81.5 179.5,81.2 181.0,81.0 182.6,80.5 184.2,81.2 185.8,80.6 187.4,81.5 189.0,81.0 190.5,80.8 192.0,80.9 193.5,81.4 195.0,80.8 196.5,80.2 198.0,80.7 199.5,80.4 201.0,80.5 202.5,80.3 204.0,80.5 205.5,81.0 207.0,81.0 208.6,80.9 210.2,81.1 211.8,81.2 213.4,80.5 215.0,81.0 216.6,81.4 218.2,80.8 219.8,80.3 221.4,80.5 223.0,80.6 224.6,80.9 226.2,80.9 227.8,80.4 229.4,80.7 231.0,80.6 232.6,80.8 234.2,81.1 235.8,80.8 237.4,81.3 239.0,81.0 240.6,80.9 242.2,81.1 243.8,81.6 245.4,81.7 247.0,81.6 248.6,81.6 250.2,81.8 251.8,81.7 253.4,81.9 255.0,81.6 256.6,82.0 258.2,81.8 259.8,81.9 261.4,81.5 263.0,81.6 264.6,81.6 266.2,81.2 267.8,82.2 269.4,82.3 271.0,82.4 272.6,82.7 274.2,82.1 275.8,82.6 277.4,82.7 279.0,83.0 280.5,82.3 282.0,83.0 283.5,83.0 285.0,82.4 287.0,81.3 289.0,81.0 290.5,82.2 292.0,83.0 293.3,87.6 294.6,91.0 297.0,85.0 298.5,84.2 300.0,84.0 302.0,88.0 304.0,84.0 305.5,85.3 307.0,86.0 309.0,84.0 310.5,86.0 312.0,87.0 313.5,89.6 315.0,91.0 316.5,89.1 318.0,88.0 319.5,87.2 321.0,87.0 322.5,86.1 324.0,85.0 325.5,83.4 327.0,81.0 329.0,79.6 331.0,79.0 332.5,78.7 334.0,78.5 335.5,79.1 337.0,78.6 338.5,78.6 340.0,79.0 341.5,79.1 343.0,79.0 344.5,79.4 346.0,79.2 347.5,79.1 349.0,79.0 350.5,79.4 352.0,79.2 353.5,78.6 355.0,79.0 357.0,79.4 359.0,80.0 360.7,80.6 362.3,80.7 364.0,81.0 365.7,80.3 367.3,79.8 369.0,79.0 370.5,80.0 372.0,79.5 373.5,79.9 375.0,80.0 376.5,80.4 378.0,80.5 379.5,81.2 381.0,81.0 382.5,81.0 384.0,80.7 385.5,79.9 387.0,80.0 388.5,80.6 390.0,80.6 391.5,80.5 393.0,80.6 394.5,79.7 396.0,80.3 397.5,79.8 399.0,80.0 400.5,80.0 402.0,79.9 403.5,79.8 405.0,80.0 406.5,80.5 408.0,80.4 409.5,80.9 411.0,80.6 412.5,80.6 414.0,81.1 415.5,81.8 417.0,81.6 418.5,81.9 420.0,81.8 421.5,82.0 423.0,82.4 424.5,82.3 426.0,82.4 427.5,82.6 429.0,82.4 430.5,82.9 432.0,83.5 433.5,83.9 435.0,84.0 436.5,84.3 438.0,84.9 439.5,85.0 441.0,85.0 442.5,85.0 444.0,85.0 445.5,85.0 447.0,85.0 449.0,85.3 451.0,86.0 453.0,86.9 455.0,88.6 456.5,87.3 458.0,86.0 459.0,86.0 461.0,86.4 463.0,87.0 464.5,88.0 466.0,88.6 467.7,87.6 469.3,86.9 471.0,86.0 472.5,85.8 474.0,85.4 475.5,85.3 477.0,85.0 479.0,85.3 481.0,86.0 482.5,85.8 484.0,86.0 485.5,85.7 487.0,85.4 488.5,85.3 490.0,85.0 491.5,85.3 493.0,85.0 494.5,85.8 496.0,84.7 497.5,85.8 499.0,85.6 500.7,85.5 502.3,85.6 504.0,85.0 505.5,86.4 507.0,87.0 509.0,85.7 511.0,85.0 512.5,85.6 514.0,84.9 515.5,85.0 517.0,85.0 518.5,85.1 520.0,84.7 521.5,84.7 523.0,84.4 524.5,84.4 526.0,84.4 527.5,84.9 529.0,85.0 530.5,84.7 532.0,85.4 533.5,85.1 535.0,85.0 537.0,86.5 539.0,87.0 540.5,87.4 542.0,87.9 543.5,88.6 545.0,90.0 546.5,89.9 548.0,89.6 549.5,90.1 551.0,90.0 553.0,89.8 555.0,90.4 557.0,93.0 558.5,91.6 560.0,91.0 561.5,92.6 563.0,94.0 564.5,94.9 566.0,96.0 567.3,98.2 568.6,100.0 570.3,100.8 572.0,101.0 573.5,100.1 575.0,99.0 577.0,99.5 579.0,100.6 581.0,100.1 583.0,100.0 585.0,101.2 587.0,101.0 588.5,102.0 590.0,103.0 591.5,102.6 593.0,102.0 595.0,103.3 597.0,104.4 598.5,104.2 600.0,104.0 601.5,105.0 603.0,106.0 605.0,104.7 607.0,103.6 609.0,104.2 611.0,105.0 613.0,105.9 615.0,108.0 617.0,107.3 619.0,105.6 621.0,104.6 623.0,103.6 624.5,103.9 626.0,105.0 627.5,106.2 629.0,107.0 630.5,108.2 632.0,109.0 633.5,107.9 635.0,107.6 637.0,107.7 639.0,108.0 641.0,109.3 643.0,109.6 645.0,110.0 647.0,110.0 648.5,111.7 650.0,113.0 651.5,110.8 653.0,108.0 655.0,108.0 657.0,108.0 659.0,109.7 661.0,111.6 663.0,111.8 665.0,111.0 666.5,109.3 668.0,107.6 670.0,108.8 672.0,110.0 674.0,111.0 676.0,111.6 678.0,110.3 680.0,109.0 682.0,108.2 684.0,108.0 686.0,110.6 688.0,112.0 689.5,109.5 691.0,107.0 693.0,105.3 695.0,102.4 697.0,105.9 699.0,109.0 700.5,105.8 702.0,103.0 704.0,102.0 706.0,100.0 707.5,99.0 709.0,98.0 711.0,96.3 713.0,95.0 714.8,91.5 716.6,88.0 719.0,95.0 720.5,94.4 722.0,95.0 723.5,93.2 725.0,91.0 727.0,94.3 729.0,98.0 731.0,96.5 733.0,95.0 735.0,94.3 737.0,94.0 738.5,93.7 740.0,93.0 741.5,90.6 743.0,88.0 744.5,87.4 746.0,86.0 747.7,86.2 749.3,85.5 751.0,85.0 752.5,84.8 754.0,84.6 755.5,84.0 757.0,84.0 758.6,83.8 760.2,84.1 761.8,83.5 763.4,83.1 765.0,83.6 766.6,83.3 768.2,83.3 769.8,83.5 771.4,82.6 773.0,82.6 774.6,82.2 776.2,82.4 777.8,82.2 779.4,82.2 781.0,82.0 782.6,81.8 784.2,81.9 785.8,81.6 787.4,82.0 789.0,81.6 790.5,81.6 792.0,81.6 793.5,81.2 795.0,80.8 796.5,81.1 798.0,81.0 799.0,81.6 800.6,81.8 802.2,82.3 803.8,82.4 805.4,82.3 807.0,82.4 808.6,82.1 810.2,81.4 811.8,81.3 813.4,81.1 815.0,80.6 816.6,80.5 818.2,80.3 819.8,81.0 821.4,80.3 823.0,80.6 824.7,81.2 826.5,81.1 828.2,81.3 829.9,80.6 831.7,81.2 833.4,81.0 835.5,81.0" fill="none" stroke="#000078" stroke-width="1.3" stroke-dasharray="6.0 1.7" stroke-linejoin="round"/>
<polyline points="118.5,203.0 119.6,203.0 121.3,199.4 123.0,196.0 124.6,200.0 125.8,194.8 127.0,189.0 128.6,191.0 129.8,186.4 131.0,182.0 132.2,179.8 133.4,178.0 135.0,183.0 136.2,181.5 137.4,181.0 139.0,170.0 140.2,170.4 141.4,171.0 143.0,175.0 144.5,172.1 146.0,168.0 147.6,167.0 148.6,200.0 149.4,224.0 150.6,208.0 152.6,205.0 154.0,202.0 156.0,188.0 158.0,176.0 160.0,168.0 162.0,162.0 164.0,144.0 165.5,137.2 167.0,130.0 168.2,129.5 169.4,128.0 170.6,133.0 171.8,126.6 173.0,120.0 174.5,117.2 176.0,114.0 178.0,115.0 179.5,111.6 181.0,108.0 182.5,108.7 184.0,111.0 185.5,112.9 187.0,114.0 188.5,112.3 190.0,110.0 191.5,108.7 193.0,107.0 195.0,105.0 196.6,108.0 198.0,102.0 199.3,100.7 200.6,101.0 201.6,88.0 202.8,87.1 204.0,88.0 205.4,86.0 207.0,92.0 208.2,91.1 209.4,91.0 210.7,92.8 212.0,95.0 213.5,99.2 215.0,103.0 216.2,98.0 217.4,93.0 219.2,92.8 221.0,92.0 222.5,94.7 224.0,98.0 226.0,100.0 228.0,96.0 229.5,93.2 231.0,90.0 232.5,93.7 234.0,97.0 235.5,98.7 237.0,101.0 238.5,98.9 240.0,95.0 241.5,98.3 243.0,101.0 245.0,105.1 247.0,108.0 248.5,105.7 250.0,104.0 251.5,106.1 253.0,109.0 254.5,111.8 256.0,115.0 258.0,113.0 259.5,117.4 261.0,122.0 263.0,119.0 265.0,123.3 267.0,127.0 269.0,129.1 271.0,131.0 272.5,130.3 274.0,130.0 275.5,131.0 277.0,133.0 279.0,132.2 281.0,132.0 282.5,133.1 284.0,133.0 285.5,133.1 287.0,134.0 289.0,133.0 290.5,135.1 292.0,137.0 293.5,137.7 295.0,138.0 296.5,136.3 298.0,136.0 299.3,137.5 300.6,139.0 302.0,138.2 303.4,136.0 305.2,137.0 307.0,140.0 308.5,138.8 310.0,138.0 311.5,136.4 313.0,135.0 314.5,135.6 316.0,137.0 317.5,135.7 319.0,134.0 320.5,134.5 322.0,135.0 323.5,133.8 325.0,134.0 327.0,130.0 328.5,128.9 330.0,127.0 332.0,120.0 333.5,119.3 335.0,118.0 336.5,118.0 338.0,117.0 339.5,116.7 341.0,115.0 342.5,116.2 344.0,117.0 345.5,115.1 347.0,113.0 348.5,110.4 350.0,109.0 351.3,107.8 352.6,106.0 355.0,109.0 357.0,108.0 359.0,113.0 360.5,111.7 362.0,111.0 363.5,109.8 365.0,109.0 366.5,109.4 368.0,111.0 369.5,107.5 371.0,105.0 372.5,103.7 374.0,103.0 375.3,102.1 376.6,100.0 379.0,109.0 381.0,101.0 382.5,101.0 384.0,103.0 385.5,103.8 387.0,106.0 388.5,103.6 390.0,101.0 391.5,100.7 393.0,99.0 394.5,99.8 396.0,100.0 397.5,100.6 399.0,103.0 400.5,103.3 402.0,106.0 403.5,106.7 405.0,107.0 406.5,104.6 408.0,103.0 409.5,105.4 411.0,109.0 412.5,111.0 414.0,112.0 415.5,112.1 417.0,111.0 419.0,110.6 421.0,110.0 422.5,111.6 424.0,113.0 425.5,112.2 427.0,111.0 428.5,113.3 430.0,114.0 431.5,116.3 433.0,118.0 434.5,119.3 436.0,120.0 437.5,121.3 439.0,122.0 440.5,122.2 442.0,124.0 444.0,126.0 445.5,124.6 447.0,122.0 448.5,123.0 450.0,123.0 451.5,124.8 453.0,126.0 455.0,131.0 457.0,126.0 459.0,127.0 461.0,127.0 463.0,129.0 464.5,130.0 466.0,131.6 467.3,130.2 468.6,128.0 471.0,124.0 473.0,123.3 475.0,124.4 476.5,123.9 478.0,123.6 479.5,125.3 481.0,126.0 482.5,126.8 484.0,129.0 485.5,129.3 487.0,128.0 488.5,127.8 490.0,127.0 491.4,123.0 492.7,124.4 494.0,126.0 495.5,127.7 497.0,129.0 498.5,128.8 500.0,128.0 502.0,126.0 503.3,128.6 504.6,131.0 507.0,133.0 509.0,129.0 511.4,128.0 513.0,130.0 514.5,133.1 516.0,135.0 517.5,133.2 519.0,132.0 521.0,130.8 523.0,130.0 524.5,131.0 526.0,131.0 528.0,130.0 529.5,131.5 531.0,133.0 532.5,133.6 534.0,135.0 535.5,136.0 537.0,136.0 538.5,137.2 540.0,137.0 541.5,137.3 543.0,138.0 544.5,138.3 546.0,140.0 547.5,139.9 549.0,140.0 550.5,140.9 552.0,142.0 553.5,141.4 555.0,141.0 557.0,146.0 559.0,142.0 560.5,142.2 562.0,141.0 564.0,146.0 565.5,147.5 567.0,150.0 569.4,152.0 570.7,150.6 572.0,148.0 573.4,154.0 574.7,149.9 576.0,147.0 577.5,149.1 579.0,152.0 580.5,152.8 582.0,153.0 584.0,150.0 586.0,155.0 587.5,155.1 589.0,154.0 591.0,153.9 593.0,153.0 595.0,154.2 597.0,155.0 599.0,154.6 601.0,154.0 602.5,154.6 604.0,155.0 605.5,153.3 607.0,151.0 608.5,151.4 610.0,152.0 611.5,153.1 613.0,154.0 614.5,155.8 616.0,157.0 617.5,156.3 619.0,155.6 621.0,156.2 623.0,156.0 624.5,157.3 626.0,158.0 627.5,159.0 629.0,158.0 631.0,158.7 633.0,159.0 635.0,158.5 637.0,158.4 639.0,158.8 641.0,159.6 643.0,160.3 645.0,161.0 647.0,161.0 649.0,160.0 651.0,159.8 653.0,160.0 655.0,162.2 657.0,164.0 658.7,165.5 660.3,163.9 662.0,165.6 664.0,162.7 666.0,161.0 668.0,161.1 670.0,161.0 672.0,162.2 674.0,163.0 676.0,163.8 678.0,164.4 680.0,163.5 682.0,163.0 683.5,162.8 685.0,162.0 687.0,166.1 689.0,170.0 690.5,166.7 692.0,164.0 693.5,163.7 695.0,161.0 697.0,163.2 699.0,165.0 700.5,163.7 702.0,163.0 704.0,163.3 706.0,163.6 708.0,162.7 710.0,162.0 711.5,160.0 713.0,158.0 715.0,153.3 717.0,151.0 719.0,150.8 721.0,151.0 722.8,149.5 724.6,147.0 726.3,149.4 728.0,153.0 729.5,154.5 731.0,156.0 733.0,156.0 735.0,155.0 736.7,155.6 738.3,156.1 740.0,155.6 741.5,151.9 743.0,150.0 744.5,145.8 746.0,142.0 747.5,141.3 749.0,141.0 750.5,138.3 752.0,135.0 754.0,134.5 756.0,133.0 758.0,132.8 760.0,135.0 761.3,132.0 762.6,128.0 764.3,126.8 766.0,127.0 767.5,124.8 769.0,122.0 770.5,118.3 772.0,116.0 774.0,115.1 776.0,114.0 777.5,115.1 779.0,115.0 780.5,115.9 782.0,117.0 784.0,109.0 785.5,110.1 787.0,111.0 788.5,109.9 790.0,108.0 791.5,107.6 793.0,107.0 794.5,106.0 796.0,105.0 797.5,108.8 799.0,111.0 800.0,105.0 801.0,124.0 803.0,124.0 804.5,122.5 806.0,120.0 808.0,122.0 810.0,113.0 811.3,112.4 812.6,112.0 814.6,120.0 817.0,124.0 819.0,126.0 820.6,130.0 822.6,127.0 825.0,126.0 827.0,118.0 828.6,118.0 830.0,126.0 831.5,128.2 833.0,128.0 835.5,128.0" fill="none" stroke="#000070" stroke-width="1.7" stroke-dasharray="8.5 2.3" stroke-linejoin="round"/>
<polyline points="118.5,355.0 119.6,355.0 121.0,344.0 122.5,341.2 124.0,338.0 126.0,330.0 128.0,325.0 130.0,326.0 131.4,329.0 133.0,322.0 135.0,322.0 137.0,325.0 139.0,316.0 141.0,313.0 143.0,315.0 145.0,320.0 147.0,322.0 148.0,322.0 149.0,349.0 150.0,336.0 151.0,328.0 153.0,338.0 154.6,342.0 155.8,342.2 157.0,340.0 159.0,316.0 161.0,298.0 163.0,280.0 165.0,258.0 167.0,241.0 168.6,240.0 170.4,246.0 172.0,234.0 174.0,223.0 176.0,220.0 177.3,221.0 178.6,221.0 179.8,216.1 181.0,210.0 182.2,212.3 183.4,214.0 184.7,211.7 186.0,209.0 187.3,208.8 188.6,208.0 190.6,211.0 192.6,207.0 194.0,207.5 195.4,208.0 196.7,203.7 198.0,200.0 200.0,196.0 201.6,184.0 202.8,184.1 204.0,185.0 205.4,180.0 206.7,184.9 208.0,191.0 210.0,186.0 211.5,186.7 213.0,187.0 215.0,188.0 217.0,185.0 218.5,184.8 220.0,184.0 221.3,184.9 222.6,184.0 223.8,187.3 225.0,190.0 226.5,190.7 228.0,191.0 229.5,189.4 231.0,187.0 232.5,189.0 234.0,191.0 236.0,192.0 237.5,188.6 239.0,187.0 240.2,190.1 241.4,192.0 243.2,195.3 245.0,199.0 246.5,196.2 248.0,193.0 250.0,189.0 251.5,194.4 253.0,200.0 254.5,200.7 256.0,199.0 258.0,195.0 260.0,198.0 261.3,196.6 262.6,194.0 264.3,196.3 266.0,198.0 267.5,198.5 269.0,200.0 270.5,202.0 272.0,203.0 274.0,199.0 275.5,201.6 277.0,205.0 279.0,209.0 281.4,202.0 282.7,203.2 284.0,203.0 285.5,201.8 287.0,202.0 289.0,204.0 290.5,205.5 292.0,207.0 293.5,207.0 295.0,206.0 297.0,205.1 299.0,205.0 300.5,204.1 302.0,203.0 303.5,203.6 305.0,204.0 307.4,212.0 308.7,209.5 310.0,206.0 311.3,206.8 312.6,208.0 315.0,211.0 316.5,207.4 318.0,203.0 320.0,207.0 321.3,203.6 322.6,198.0 324.6,206.0 327.0,196.0 329.0,200.0 330.5,196.8 332.0,195.0 334.0,197.0 335.3,193.1 336.6,190.0 339.0,193.0 341.4,186.0 343.4,194.0 344.7,190.3 346.0,186.0 347.5,186.2 349.0,187.0 350.5,185.4 352.0,185.0 353.5,186.3 355.0,186.0 356.5,184.6 358.0,182.0 359.5,184.1 361.0,185.0 362.5,183.6 364.0,181.0 365.3,180.9 366.6,180.0 368.6,187.0 371.0,178.0 373.0,176.0 374.5,173.6 376.0,172.0 378.0,180.0 379.4,192.0 381.0,179.0 382.5,177.3 384.0,178.0 385.5,178.3 387.0,178.0 389.0,169.0 391.0,172.0 393.0,167.0 394.5,167.0 396.0,168.0 397.3,168.6 398.6,169.0 400.6,175.0 403.0,174.0 405.0,179.0 406.5,177.8 408.0,176.0 410.0,175.0 412.0,181.0 413.5,180.9 415.0,182.0 416.5,179.9 418.0,178.0 419.5,180.5 421.0,181.0 422.5,182.0 424.0,182.0 426.0,187.0 428.0,184.0 429.5,185.2 431.0,188.0 432.5,190.0 434.0,192.0 435.5,191.6 437.0,191.0 439.0,198.0 441.0,203.0 442.5,202.9 444.0,202.0 446.0,197.0 447.5,197.0 449.0,196.0 450.5,197.5 452.0,199.0 453.3,202.9 454.6,207.0 456.6,200.0 459.0,207.0 461.4,203.0 462.7,207.0 464.0,210.0 465.3,211.3 466.6,214.0 468.6,213.0 470.0,204.0 472.0,207.0 473.3,206.2 474.6,204.0 477.0,208.0 478.5,209.2 480.0,210.0 481.5,212.8 483.0,216.0 484.5,214.3 486.0,213.0 488.0,207.0 490.0,218.0 491.3,214.7 492.6,211.0 494.6,222.0 497.0,220.0 499.0,217.0 501.0,221.0 503.0,214.0 505.4,222.0 507.0,237.0 509.0,227.0 511.0,219.0 513.4,211.0 515.4,222.0 517.4,224.0 519.0,217.0 520.5,215.8 522.0,216.0 523.3,212.3 524.6,211.0 526.6,217.0 528.0,211.0 530.0,220.0 531.5,224.8 533.0,229.0 534.5,224.3 536.0,218.0 537.5,225.0 539.0,232.0 541.0,221.0 542.5,225.1 544.0,229.0 546.0,227.0 547.5,232.5 549.0,238.0 551.4,239.0 552.6,243.0 555.0,235.0 556.6,258.0 558.6,243.0 561.0,242.0 563.4,246.0 564.7,246.0 566.0,247.0 568.0,266.0 569.5,254.8 571.0,243.0 573.0,267.0 574.5,259.0 576.0,250.0 578.0,242.0 579.7,250.1 581.4,258.0 582.7,252.5 584.0,246.0 586.0,260.0 587.5,261.5 589.0,264.0 591.4,266.0 592.7,261.7 594.0,257.0 595.3,267.1 596.6,278.0 598.6,268.0 600.0,270.8 601.4,274.0 602.7,276.2 604.0,278.0 605.3,271.1 606.6,264.0 608.0,266.0 609.4,258.0 610.7,266.0 612.0,273.0 613.3,278.9 614.6,284.0 617.0,277.0 619.0,292.0 621.0,276.0 622.6,272.0 625.0,282.0 627.0,288.0 629.0,276.0 630.6,288.0 632.0,296.0 633.4,272.0 635.0,278.0 636.5,272.4 638.0,268.0 639.5,270.7 641.0,272.0 643.0,279.0 644.6,270.0 646.6,288.0 648.0,284.0 649.4,295.0 651.0,288.7 652.6,284.0 655.0,288.0 657.4,297.0 659.0,291.0 661.4,295.0 662.7,293.0 664.0,291.0 666.0,289.0 667.4,281.0 668.7,284.7 670.0,288.0 671.5,285.5 673.0,283.0 675.4,289.0 677.0,286.0 678.5,290.8 680.0,295.0 682.0,287.0 684.0,286.0 685.4,295.0 686.7,298.5 688.0,302.0 689.6,304.0 691.4,294.0 693.0,293.0 694.6,279.0 696.0,278.0 697.4,285.0 699.0,276.0 700.6,283.0 702.0,280.5 703.4,279.0 705.0,271.0 707.0,262.0 708.5,261.4 710.0,260.0 712.0,256.0 713.3,256.5 714.6,257.0 716.6,249.0 718.0,247.0 720.0,252.0 721.3,248.0 722.6,245.0 725.0,241.0 727.4,242.0 729.4,252.0 730.7,248.0 732.0,244.0 733.5,245.5 735.0,247.0 736.5,247.2 738.0,247.0 739.3,248.7 740.6,251.0 742.0,240.0 744.0,234.0 746.0,229.0 747.5,227.6 749.0,226.0 750.5,222.9 752.0,220.0 753.5,217.8 755.0,214.0 756.5,212.8 758.0,212.0 759.5,213.2 761.0,213.0 763.0,204.0 765.0,202.0 766.5,202.0 768.0,202.0 769.3,199.1 770.6,195.0 773.0,194.0 774.5,194.2 776.0,192.0 777.5,190.3 779.0,189.0 780.6,192.0 782.6,201.0 784.0,191.0 786.0,195.0 787.5,196.1 789.0,197.0 790.5,196.0 792.0,196.0 793.4,200.0 795.4,194.0 797.4,199.0 799.0,196.0 801.4,205.0 803.4,200.0 804.7,200.6 806.0,202.0 808.0,203.0 809.3,200.7 810.6,199.0 812.6,195.0 814.6,204.0 817.0,213.0 819.0,213.0 821.4,217.0 823.4,220.0 824.7,216.0 826.0,212.0 827.3,210.5 828.6,208.0 830.6,215.0 833.0,221.0 835.5,221.0" fill="none" stroke="#000" stroke-width="2.7" stroke-linejoin="round"/>
</g>
<g stroke="#000" stroke-width="1.33" fill="none" stroke-linecap="square">
<line x1="119.5" y1="39.5" x2="119.5" y2="765.5"/><line x1="833.5" y1="39.5" x2="833.5" y2="765.5"/><line x1="119.5" y1="765.5" x2="833.5" y2="765.5"/>
</g>
<g stroke="#000" stroke-width="1.33">
<line x1="119.5" y1="765.5" x2="119.5" y2="771.5"/>
<line x1="199.5" y1="765.5" x2="199.5" y2="771.5"/>
<line x1="279.5" y1="765.5" x2="279.5" y2="771.5"/>
<line x1="359.5" y1="765.5" x2="359.5" y2="771.5"/>
<line x1="439.5" y1="765.5" x2="439.5" y2="771.5"/>
<line x1="519.5" y1="765.5" x2="519.5" y2="771.5"/>
<line x1="598.5" y1="765.5" x2="598.5" y2="771.5"/>
<line x1="678.5" y1="765.5" x2="678.5" y2="771.5"/>
<line x1="758.5" y1="765.5" x2="758.5" y2="771.5"/>
<line x1="113.5" y1="82.5" x2="119.5" y2="82.5"/>
<line x1="113.5" y1="240.5" x2="119.5" y2="240.5"/>
<line x1="113.5" y1="397.5" x2="119.5" y2="397.5"/>
<line x1="113.5" y1="555.5" x2="119.5" y2="555.5"/>
<line x1="113.5" y1="712.5" x2="119.5" y2="712.5"/>
</g>
<g font-size="16.67px" stroke="#000" stroke-width="0.3">
<g letter-spacing="-0.45">
<text x="119.2" y="791.3" text-anchor="middle">0</text>
<text x="199.0" y="791.3" text-anchor="middle">50</text>
<text x="278.9" y="791.3" text-anchor="middle">100</text>
<text x="358.7" y="791.3" text-anchor="middle">150</text>
<text x="438.6" y="791.3" text-anchor="middle">200</text>
<text x="518.4" y="791.3" text-anchor="middle">250</text>
<text x="598.3" y="791.3" text-anchor="middle">300</text>
<text x="678.1" y="791.3" text-anchor="middle">350</text>
<text x="758.0" y="791.3" text-anchor="middle">400</text>
<text x="106.3" y="719.35" text-anchor="end">200</text>
<text x="106.3" y="561.85" text-anchor="end">400</text>
<text x="106.3" y="404.35" text-anchor="end">600</text>
<text x="106.3" y="246.85" text-anchor="end">800</text>
<text x="106.3" y="89.35" text-anchor="end">1000</text>
</g>
<text x="475.7" y="815.6" text-anchor="middle">Binned row index</text>
<text transform="translate(54.2,403.3) rotate(-90)" text-anchor="middle">Aerosol mid pressure [hPa]</text>
</g>
<rect x="119.5" y="17" width="713.5" height="22.4" rx="2.6" ry="2.6" fill="#fff" stroke="#d6d6d6" stroke-width="1.6"/>
<line x1="118.9" y1="39.45" x2="834.1" y2="39.45" stroke="#7d7d7d" stroke-width="1.5"/>
<g font-size="11.3px" stroke="#000" stroke-width="0.08">
<line x1="124.6" y1="27.6" x2="147.6" y2="27.6" stroke="#c6c6ff" stroke-width="0.75" stroke-dasharray="3.3 0.8"/>
<text x="156.0" y="31.7">1-99%</text>
<line x1="278.0" y1="27.6" x2="301.2" y2="27.6" stroke="#b0b0ff" stroke-width="0.9" stroke-dasharray="4.8 1.6"/>
<text x="310.6" y="31.7">5-95%</text>
<line x1="432.4" y1="27.6" x2="455.6" y2="27.6" stroke="#8c8cff" stroke-width="1.3" stroke-dasharray="6.4 2.0"/>
<text x="464.3" y="31.7">10-90%</text>
<line x1="593.0" y1="27.6" x2="616.2" y2="27.6" stroke="#6a6aff" stroke-width="1.7" stroke-dasharray="8.0 2.3"/>
<text x="626.0" y="31.7">25-75%</text>
<line x1="754.2" y1="27.6" x2="777.4" y2="27.6" stroke="#000" stroke-width="2.5" stroke-linecap="square"/>
<text x="787.3" y="31.7">Median</text>
</g>
</svg></body></html>
